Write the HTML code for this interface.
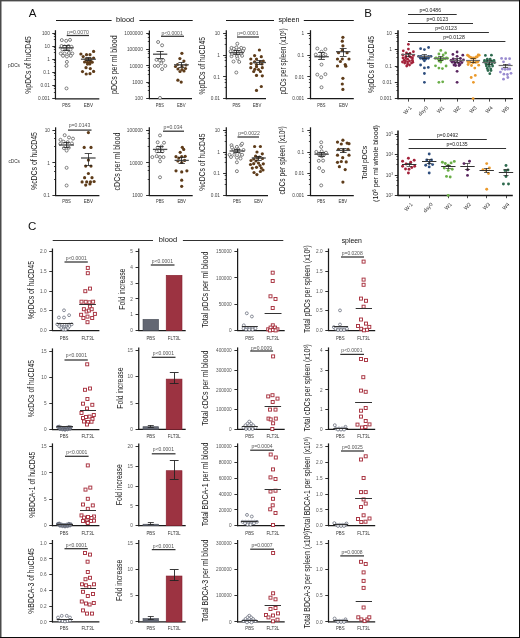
<!DOCTYPE html>
<html><head><meta charset="utf-8"><title>Figure</title>
<style>html,body{margin:0;padding:0;background:#fff;width:520px;height:638px;overflow:hidden;font-family:"Liberation Sans",sans-serif;}
svg{display:block;will-change:transform;}</style></head>
<body>
<svg width="520" height="638" viewBox="0 0 520 638" font-family='"Liberation Sans", sans-serif'>
<rect x="0" y="0" width="520" height="638" fill="#fff"/>
<text x="32.5" y="17.35" font-size="11.55" fill="#111" text-anchor="middle">A</text>
<text x="368.2" y="17.35" font-size="11.55" fill="#111" text-anchor="middle">B</text>
<text x="32.2" y="229.65" font-size="11.55" fill="#111" text-anchor="middle">C</text>
<text x="14" y="66.68" font-size="5.04" fill="#333" text-anchor="middle" textLength="12" lengthAdjust="spacingAndGlyphs">pDCs</text>
<text x="14.2" y="162.88" font-size="5.04" fill="#333" text-anchor="middle" textLength="11.5" lengthAdjust="spacingAndGlyphs">cDCs</text>
<line x1="56" y1="20.5" x2="111.6" y2="20.5" stroke="#1a1a1a" stroke-width="1.05"/>
<text x="125.1" y="21.99" font-size="7.77" fill="#111" text-anchor="middle" textLength="18.2" lengthAdjust="spacingAndGlyphs">blood</text>
<line x1="139.4" y1="20.5" x2="192.7" y2="20.5" stroke="#1a1a1a" stroke-width="1.05"/>
<line x1="226" y1="20.5" x2="274" y2="20.5" stroke="#1a1a1a" stroke-width="1.05"/>
<text x="289" y="21.99" font-size="7.77" fill="#111" text-anchor="middle" textLength="21.1" lengthAdjust="spacingAndGlyphs">spleen</text>
<line x1="303.8" y1="20.5" x2="353.8" y2="20.5" stroke="#1a1a1a" stroke-width="1.05"/>
<line x1="52.7" y1="240.5" x2="153" y2="240.5" stroke="#1a1a1a" stroke-width="0.9"/>
<text x="168" y="242.39" font-size="7.77" fill="#111" text-anchor="middle" textLength="18.3" lengthAdjust="spacingAndGlyphs">blood</text>
<line x1="182.9" y1="240.5" x2="283.3" y2="240.5" stroke="#1a1a1a" stroke-width="0.9"/>
<text x="351.8" y="242.59" font-size="7.77" fill="#111" text-anchor="middle" textLength="20.3" lengthAdjust="spacingAndGlyphs">spleen</text>
<line x1="55.45" y1="30.2" x2="55.45" y2="99.25" stroke="#1a1a1a" stroke-width="1.25"/>
<line x1="52.25" y1="33.5" x2="55.45" y2="33.5" stroke="#1a1a1a" stroke-width="0.9"/>
<text x="49.85" y="35.12" font-size="5.15" fill="#444" text-anchor="end" textLength="7.93" lengthAdjust="spacingAndGlyphs">100</text>
<line x1="52.25" y1="46.5" x2="55.45" y2="46.5" stroke="#1a1a1a" stroke-width="0.9"/>
<text x="49.85" y="48.18" font-size="5.15" fill="#444" text-anchor="end" textLength="5.28" lengthAdjust="spacingAndGlyphs">10</text>
<line x1="52.25" y1="59.5" x2="55.45" y2="59.5" stroke="#1a1a1a" stroke-width="0.9"/>
<text x="49.85" y="61.23" font-size="5.15" fill="#444" text-anchor="end" textLength="2.64" lengthAdjust="spacingAndGlyphs">1</text>
<line x1="52.25" y1="72.5" x2="55.45" y2="72.5" stroke="#1a1a1a" stroke-width="0.9"/>
<text x="49.85" y="74.3" font-size="5.15" fill="#444" text-anchor="end" textLength="6.6" lengthAdjust="spacingAndGlyphs">0.1</text>
<line x1="52.25" y1="85.5" x2="55.45" y2="85.5" stroke="#1a1a1a" stroke-width="0.9"/>
<text x="49.85" y="87.36" font-size="5.15" fill="#444" text-anchor="end" textLength="9.24" lengthAdjust="spacingAndGlyphs">0.01</text>
<line x1="52.25" y1="98.5" x2="55.45" y2="98.5" stroke="#1a1a1a" stroke-width="0.9"/>
<text x="49.85" y="100.41" font-size="5.15" fill="#444" text-anchor="end" textLength="11.89" lengthAdjust="spacingAndGlyphs">0.001</text>
<line x1="53.85" y1="86.5" x2="55.45" y2="86.5" stroke="#1a1a1a" stroke-width="0.8"/>
<line x1="53.85" y1="88.5" x2="55.45" y2="88.5" stroke="#1a1a1a" stroke-width="0.8"/>
<line x1="53.85" y1="92.5" x2="55.45" y2="92.5" stroke="#1a1a1a" stroke-width="0.8"/>
<line x1="53.85" y1="73.5" x2="55.45" y2="73.5" stroke="#1a1a1a" stroke-width="0.8"/>
<line x1="53.85" y1="75.5" x2="55.45" y2="75.5" stroke="#1a1a1a" stroke-width="0.8"/>
<line x1="53.85" y1="79.5" x2="55.45" y2="79.5" stroke="#1a1a1a" stroke-width="0.8"/>
<line x1="53.85" y1="60.5" x2="55.45" y2="60.5" stroke="#1a1a1a" stroke-width="0.8"/>
<line x1="53.85" y1="62.5" x2="55.45" y2="62.5" stroke="#1a1a1a" stroke-width="0.8"/>
<line x1="53.85" y1="66.5" x2="55.45" y2="66.5" stroke="#1a1a1a" stroke-width="0.8"/>
<line x1="53.85" y1="47.5" x2="55.45" y2="47.5" stroke="#1a1a1a" stroke-width="0.8"/>
<line x1="53.85" y1="49.5" x2="55.45" y2="49.5" stroke="#1a1a1a" stroke-width="0.8"/>
<line x1="53.85" y1="52.5" x2="55.45" y2="52.5" stroke="#1a1a1a" stroke-width="0.8"/>
<line x1="53.85" y1="34.5" x2="55.45" y2="34.5" stroke="#1a1a1a" stroke-width="0.8"/>
<line x1="53.85" y1="36.5" x2="55.45" y2="36.5" stroke="#1a1a1a" stroke-width="0.8"/>
<line x1="53.85" y1="39.5" x2="55.45" y2="39.5" stroke="#1a1a1a" stroke-width="0.8"/>
<line x1="54.95" y1="98.75" x2="99.3" y2="98.75" stroke="#1a1a1a" stroke-width="1.25"/>
<text transform="translate(28.45 65) rotate(-90)" x="0" y="2.83" font-size="8.51" fill="#1a1a1a" text-anchor="middle" textLength="57.4" lengthAdjust="spacingAndGlyphs">%pDCs of huCD45</text>
<circle cx="61.8" cy="40.1" r="1.5" fill="#fff" stroke="#585858" stroke-width="0.75"/>
<circle cx="66.2" cy="40.8" r="1.5" fill="#fff" stroke="#585858" stroke-width="0.75"/>
<circle cx="70" cy="39.9" r="1.5" fill="#fff" stroke="#585858" stroke-width="0.75"/>
<circle cx="61.5" cy="46" r="1.5" fill="#fff" stroke="#585858" stroke-width="0.75"/>
<circle cx="64.6" cy="46.5" r="1.5" fill="#fff" stroke="#585858" stroke-width="0.75"/>
<circle cx="68.5" cy="46" r="1.5" fill="#fff" stroke="#585858" stroke-width="0.75"/>
<circle cx="71.5" cy="46.8" r="1.5" fill="#fff" stroke="#585858" stroke-width="0.75"/>
<circle cx="62.5" cy="49.5" r="1.5" fill="#fff" stroke="#585858" stroke-width="0.75"/>
<circle cx="66.5" cy="49" r="1.5" fill="#fff" stroke="#585858" stroke-width="0.75"/>
<circle cx="70.5" cy="49.5" r="1.5" fill="#fff" stroke="#585858" stroke-width="0.75"/>
<circle cx="60.8" cy="53.5" r="1.5" fill="#fff" stroke="#585858" stroke-width="0.75"/>
<circle cx="64.6" cy="53.5" r="1.5" fill="#fff" stroke="#585858" stroke-width="0.75"/>
<circle cx="68.9" cy="53" r="1.5" fill="#fff" stroke="#585858" stroke-width="0.75"/>
<circle cx="72.3" cy="53.5" r="1.5" fill="#fff" stroke="#585858" stroke-width="0.75"/>
<circle cx="63" cy="55.8" r="1.5" fill="#fff" stroke="#585858" stroke-width="0.75"/>
<circle cx="66.9" cy="56.5" r="1.5" fill="#fff" stroke="#585858" stroke-width="0.75"/>
<circle cx="70.8" cy="55.8" r="1.5" fill="#fff" stroke="#585858" stroke-width="0.75"/>
<circle cx="66.9" cy="61.9" r="1.5" fill="#fff" stroke="#585858" stroke-width="0.75"/>
<circle cx="66.5" cy="65.8" r="1.5" fill="#fff" stroke="#585858" stroke-width="0.75"/>
<circle cx="66.5" cy="88.4" r="1.5" fill="#fff" stroke="#585858" stroke-width="0.75"/>
<circle cx="93.6" cy="51.4" r="1.6" fill="#5e3c1a"/>
<circle cx="80.9" cy="54" r="1.6" fill="#5e3c1a"/>
<circle cx="83.2" cy="56.6" r="1.6" fill="#5e3c1a"/>
<circle cx="86.5" cy="54.7" r="1.6" fill="#5e3c1a"/>
<circle cx="90" cy="54.7" r="1.6" fill="#5e3c1a"/>
<circle cx="93.6" cy="58" r="1.6" fill="#5e3c1a"/>
<circle cx="86" cy="59.4" r="1.6" fill="#5e3c1a"/>
<circle cx="88.4" cy="59.2" r="1.6" fill="#5e3c1a"/>
<circle cx="90.7" cy="59.4" r="1.6" fill="#5e3c1a"/>
<circle cx="84.6" cy="62" r="1.6" fill="#5e3c1a"/>
<circle cx="87.5" cy="62.2" r="1.6" fill="#5e3c1a"/>
<circle cx="90.3" cy="62" r="1.6" fill="#5e3c1a"/>
<circle cx="92.2" cy="62.2" r="1.6" fill="#5e3c1a"/>
<circle cx="87.5" cy="64.1" r="1.6" fill="#5e3c1a"/>
<circle cx="89.8" cy="63.9" r="1.6" fill="#5e3c1a"/>
<circle cx="86" cy="67.7" r="1.6" fill="#5e3c1a"/>
<circle cx="90.3" cy="68.6" r="1.6" fill="#5e3c1a"/>
<circle cx="82.5" cy="71.6" r="1.6" fill="#5e3c1a"/>
<circle cx="93.6" cy="71.4" r="1.6" fill="#5e3c1a"/>
<circle cx="86.2" cy="74" r="1.6" fill="#5e3c1a"/>
<circle cx="90" cy="73.7" r="1.6" fill="#5e3c1a"/>
<line x1="58.8" y1="47.8" x2="73.8" y2="47.8" stroke="#4a4a4a" stroke-width="1.3"/>
<line x1="66.5" y1="45.5" x2="66.5" y2="50.3" stroke="#222" stroke-width="0.8"/>
<line x1="62.7" y1="45.5" x2="69.9" y2="45.5" stroke="#222" stroke-width="0.8"/>
<line x1="62.7" y1="50.5" x2="69.9" y2="50.5" stroke="#222" stroke-width="0.8"/>
<line x1="80.9" y1="59.2" x2="95.9" y2="59.2" stroke="#4a4a4a" stroke-width="1.3"/>
<line x1="88.5" y1="57.8" x2="88.5" y2="60.6" stroke="#222" stroke-width="0.8"/>
<line x1="85.4" y1="57.5" x2="91.4" y2="57.5" stroke="#222" stroke-width="0.8"/>
<line x1="85.4" y1="60.5" x2="91.4" y2="60.5" stroke="#222" stroke-width="0.8"/>
<text x="78" y="33.58" font-size="4.73" fill="#555" text-anchor="middle" textLength="21.8" lengthAdjust="spacingAndGlyphs">p=0.0070</text>
<line x1="66.7" y1="35.5" x2="89" y2="35.5" stroke="#333" stroke-width="1.25"/>
<text x="66.3" y="106.89" font-size="5.67" fill="#333" text-anchor="middle" textLength="8.3" lengthAdjust="spacingAndGlyphs">PBS</text>
<text x="88.4" y="106.89" font-size="5.67" fill="#333" text-anchor="middle" textLength="9.2" lengthAdjust="spacingAndGlyphs">EBV</text>
<line x1="149.4" y1="30.5" x2="149.4" y2="99.2" stroke="#1a1a1a" stroke-width="1.25"/>
<line x1="146.2" y1="33.5" x2="149.4" y2="33.5" stroke="#1a1a1a" stroke-width="0.9"/>
<text x="142.8" y="34.82" font-size="5.15" fill="#444" text-anchor="end" textLength="18.49" lengthAdjust="spacingAndGlyphs">1000000</text>
<line x1="146.2" y1="49.5" x2="149.4" y2="49.5" stroke="#1a1a1a" stroke-width="0.9"/>
<text x="142.8" y="51.22" font-size="5.15" fill="#444" text-anchor="end" textLength="15.85" lengthAdjust="spacingAndGlyphs">100000</text>
<line x1="146.2" y1="65.5" x2="149.4" y2="65.5" stroke="#1a1a1a" stroke-width="0.9"/>
<text x="142.8" y="67.62" font-size="5.15" fill="#444" text-anchor="end" textLength="13.21" lengthAdjust="spacingAndGlyphs">10000</text>
<line x1="146.2" y1="82.5" x2="149.4" y2="82.5" stroke="#1a1a1a" stroke-width="0.9"/>
<text x="142.8" y="84.02" font-size="5.15" fill="#444" text-anchor="end" textLength="10.57" lengthAdjust="spacingAndGlyphs">1000</text>
<line x1="146.2" y1="98.5" x2="149.4" y2="98.5" stroke="#1a1a1a" stroke-width="0.9"/>
<text x="142.8" y="100.41" font-size="5.15" fill="#444" text-anchor="end" textLength="7.93" lengthAdjust="spacingAndGlyphs">100</text>
<line x1="147.8" y1="83.5" x2="149.4" y2="83.5" stroke="#1a1a1a" stroke-width="0.8"/>
<line x1="147.8" y1="86.5" x2="149.4" y2="86.5" stroke="#1a1a1a" stroke-width="0.8"/>
<line x1="147.8" y1="90.5" x2="149.4" y2="90.5" stroke="#1a1a1a" stroke-width="0.8"/>
<line x1="147.8" y1="67.5" x2="149.4" y2="67.5" stroke="#1a1a1a" stroke-width="0.8"/>
<line x1="147.8" y1="70.5" x2="149.4" y2="70.5" stroke="#1a1a1a" stroke-width="0.8"/>
<line x1="147.8" y1="74.5" x2="149.4" y2="74.5" stroke="#1a1a1a" stroke-width="0.8"/>
<line x1="147.8" y1="51.5" x2="149.4" y2="51.5" stroke="#1a1a1a" stroke-width="0.8"/>
<line x1="147.8" y1="53.5" x2="149.4" y2="53.5" stroke="#1a1a1a" stroke-width="0.8"/>
<line x1="147.8" y1="57.5" x2="149.4" y2="57.5" stroke="#1a1a1a" stroke-width="0.8"/>
<line x1="147.8" y1="34.5" x2="149.4" y2="34.5" stroke="#1a1a1a" stroke-width="0.8"/>
<line x1="147.8" y1="37.5" x2="149.4" y2="37.5" stroke="#1a1a1a" stroke-width="0.8"/>
<line x1="147.8" y1="41.5" x2="149.4" y2="41.5" stroke="#1a1a1a" stroke-width="0.8"/>
<line x1="148.9" y1="98.7" x2="192" y2="98.7" stroke="#1a1a1a" stroke-width="1.25"/>
<text transform="translate(114.16 64.7) rotate(-90)" x="0" y="2.83" font-size="8.51" fill="#1a1a1a" text-anchor="middle" textLength="58.6" lengthAdjust="spacingAndGlyphs">pDCs per ml blood</text>
<circle cx="158.1" cy="42" r="1.5" fill="#fff" stroke="#585858" stroke-width="0.75"/>
<circle cx="162.1" cy="45.3" r="1.5" fill="#fff" stroke="#585858" stroke-width="0.75"/>
<circle cx="156.5" cy="59.8" r="1.5" fill="#fff" stroke="#585858" stroke-width="0.75"/>
<circle cx="159.8" cy="60.3" r="1.5" fill="#fff" stroke="#585858" stroke-width="0.75"/>
<circle cx="163.3" cy="60.3" r="1.5" fill="#fff" stroke="#585858" stroke-width="0.75"/>
<circle cx="161.3" cy="63.3" r="1.5" fill="#fff" stroke="#585858" stroke-width="0.75"/>
<circle cx="154.8" cy="65.9" r="1.5" fill="#fff" stroke="#585858" stroke-width="0.75"/>
<circle cx="158.1" cy="65.9" r="1.5" fill="#fff" stroke="#585858" stroke-width="0.75"/>
<circle cx="165.3" cy="65.9" r="1.5" fill="#fff" stroke="#585858" stroke-width="0.75"/>
<circle cx="162.1" cy="69.1" r="1.5" fill="#fff" stroke="#585858" stroke-width="0.75"/>
<circle cx="160" cy="97.9" r="1.5" fill="#fff" stroke="#585858" stroke-width="0.75"/>
<circle cx="181.9" cy="53.3" r="1.6" fill="#5e3c1a"/>
<circle cx="179.9" cy="58.6" r="1.6" fill="#5e3c1a"/>
<circle cx="183.9" cy="61" r="1.6" fill="#5e3c1a"/>
<circle cx="177.5" cy="64.5" r="1.6" fill="#5e3c1a"/>
<circle cx="182" cy="66" r="1.6" fill="#5e3c1a"/>
<circle cx="186" cy="65" r="1.6" fill="#5e3c1a"/>
<circle cx="175.5" cy="66.5" r="1.6" fill="#5e3c1a"/>
<circle cx="178" cy="69" r="1.6" fill="#5e3c1a"/>
<circle cx="182" cy="69.5" r="1.6" fill="#5e3c1a"/>
<circle cx="185.5" cy="68.5" r="1.6" fill="#5e3c1a"/>
<circle cx="180" cy="71.5" r="1.6" fill="#5e3c1a"/>
<circle cx="184" cy="71" r="1.6" fill="#5e3c1a"/>
<circle cx="177.9" cy="80.2" r="1.6" fill="#5e3c1a"/>
<circle cx="181.2" cy="82.1" r="1.6" fill="#5e3c1a"/>
<line x1="153" y1="54.2" x2="167.3" y2="54.2" stroke="#4a4a4a" stroke-width="1.3"/>
<line x1="160.5" y1="51" x2="160.5" y2="58" stroke="#222" stroke-width="0.8"/>
<line x1="156.5" y1="51.5" x2="163.7" y2="51.5" stroke="#222" stroke-width="0.8"/>
<line x1="156.5" y1="58.5" x2="163.7" y2="58.5" stroke="#222" stroke-width="0.8"/>
<line x1="174" y1="64.8" x2="188.8" y2="64.8" stroke="#4a4a4a" stroke-width="1.3"/>
<line x1="181.5" y1="62.6" x2="181.5" y2="67" stroke="#222" stroke-width="0.8"/>
<line x1="178.4" y1="62.5" x2="184.4" y2="62.5" stroke="#222" stroke-width="0.8"/>
<line x1="178.4" y1="67.5" x2="184.4" y2="67.5" stroke="#222" stroke-width="0.8"/>
<text x="172.1" y="34.58" font-size="4.73" fill="#555" text-anchor="middle" textLength="21.2" lengthAdjust="spacingAndGlyphs">p&lt;0.0001</text>
<line x1="161" y1="36.3" x2="184" y2="36.3" stroke="#333" stroke-width="1.25"/>
<text x="159.8" y="106.59" font-size="5.67" fill="#333" text-anchor="middle" textLength="8" lengthAdjust="spacingAndGlyphs">PBS</text>
<text x="181.3" y="106.59" font-size="5.67" fill="#333" text-anchor="middle" textLength="8.6" lengthAdjust="spacingAndGlyphs">EBV</text>
<line x1="226.3" y1="30.2" x2="226.3" y2="99.2" stroke="#1a1a1a" stroke-width="1.25"/>
<line x1="223.1" y1="33.5" x2="226.3" y2="33.5" stroke="#1a1a1a" stroke-width="0.9"/>
<text x="220" y="35.12" font-size="5.15" fill="#444" text-anchor="end" textLength="5.28" lengthAdjust="spacingAndGlyphs">10</text>
<line x1="223.1" y1="55.5" x2="226.3" y2="55.5" stroke="#1a1a1a" stroke-width="0.9"/>
<text x="220" y="56.89" font-size="5.15" fill="#444" text-anchor="end" textLength="2.64" lengthAdjust="spacingAndGlyphs">1</text>
<line x1="223.1" y1="76.5" x2="226.3" y2="76.5" stroke="#1a1a1a" stroke-width="0.9"/>
<text x="220" y="78.66" font-size="5.15" fill="#444" text-anchor="end" textLength="6.6" lengthAdjust="spacingAndGlyphs">0.1</text>
<line x1="223.1" y1="98.5" x2="226.3" y2="98.5" stroke="#1a1a1a" stroke-width="0.9"/>
<text x="220" y="100.43" font-size="5.15" fill="#444" text-anchor="end" textLength="9.24" lengthAdjust="spacingAndGlyphs">0.01</text>
<line x1="224.7" y1="79.5" x2="226.3" y2="79.5" stroke="#1a1a1a" stroke-width="0.8"/>
<line x1="224.7" y1="82.5" x2="226.3" y2="82.5" stroke="#1a1a1a" stroke-width="0.8"/>
<line x1="224.7" y1="87.5" x2="226.3" y2="87.5" stroke="#1a1a1a" stroke-width="0.8"/>
<line x1="224.7" y1="57.5" x2="226.3" y2="57.5" stroke="#1a1a1a" stroke-width="0.8"/>
<line x1="224.7" y1="60.5" x2="226.3" y2="60.5" stroke="#1a1a1a" stroke-width="0.8"/>
<line x1="224.7" y1="66.5" x2="226.3" y2="66.5" stroke="#1a1a1a" stroke-width="0.8"/>
<line x1="224.7" y1="35.5" x2="226.3" y2="35.5" stroke="#1a1a1a" stroke-width="0.8"/>
<line x1="224.7" y1="38.5" x2="226.3" y2="38.5" stroke="#1a1a1a" stroke-width="0.8"/>
<line x1="224.7" y1="44.5" x2="226.3" y2="44.5" stroke="#1a1a1a" stroke-width="0.8"/>
<line x1="225.8" y1="98.7" x2="266" y2="98.7" stroke="#1a1a1a" stroke-width="1.25"/>
<text transform="translate(202.06 65.8) rotate(-90)" x="0" y="2.83" font-size="8.51" fill="#1a1a1a" text-anchor="middle" textLength="57.6" lengthAdjust="spacingAndGlyphs">%pDCs of huCD45</text>
<circle cx="237.3" cy="43.7" r="1.5" fill="#fff" stroke="#585858" stroke-width="0.75"/>
<circle cx="231.5" cy="47.9" r="1.5" fill="#fff" stroke="#585858" stroke-width="0.75"/>
<circle cx="236.3" cy="47.5" r="1.5" fill="#fff" stroke="#585858" stroke-width="0.75"/>
<circle cx="241.2" cy="47.9" r="1.5" fill="#fff" stroke="#585858" stroke-width="0.75"/>
<circle cx="230.6" cy="51.3" r="1.5" fill="#fff" stroke="#585858" stroke-width="0.75"/>
<circle cx="235.4" cy="51.9" r="1.5" fill="#fff" stroke="#585858" stroke-width="0.75"/>
<circle cx="240.2" cy="51.3" r="1.5" fill="#fff" stroke="#585858" stroke-width="0.75"/>
<circle cx="243.1" cy="50.8" r="1.5" fill="#fff" stroke="#585858" stroke-width="0.75"/>
<circle cx="231.5" cy="56.2" r="1.5" fill="#fff" stroke="#585858" stroke-width="0.75"/>
<circle cx="236.9" cy="56.2" r="1.5" fill="#fff" stroke="#585858" stroke-width="0.75"/>
<circle cx="242.1" cy="55.8" r="1.5" fill="#fff" stroke="#585858" stroke-width="0.75"/>
<circle cx="233.5" cy="61.5" r="1.5" fill="#fff" stroke="#585858" stroke-width="0.75"/>
<circle cx="239.2" cy="61.9" r="1.5" fill="#fff" stroke="#585858" stroke-width="0.75"/>
<circle cx="236.3" cy="72.5" r="1.5" fill="#fff" stroke="#585858" stroke-width="0.75"/>
<circle cx="233.8" cy="48.8" r="1.5" fill="#fff" stroke="#585858" stroke-width="0.75"/>
<circle cx="239" cy="49.5" r="1.5" fill="#fff" stroke="#585858" stroke-width="0.75"/>
<circle cx="244" cy="48.6" r="1.5" fill="#fff" stroke="#585858" stroke-width="0.75"/>
<circle cx="232" cy="53.8" r="1.5" fill="#fff" stroke="#585858" stroke-width="0.75"/>
<circle cx="241" cy="53.5" r="1.5" fill="#fff" stroke="#585858" stroke-width="0.75"/>
<circle cx="237.5" cy="58.5" r="1.5" fill="#fff" stroke="#585858" stroke-width="0.75"/>
<circle cx="259.4" cy="50" r="1.6" fill="#5e3c1a"/>
<circle cx="254.6" cy="55.6" r="1.6" fill="#5e3c1a"/>
<circle cx="261.3" cy="56.7" r="1.6" fill="#5e3c1a"/>
<circle cx="250.8" cy="59" r="1.6" fill="#5e3c1a"/>
<circle cx="256.5" cy="59" r="1.6" fill="#5e3c1a"/>
<circle cx="254.6" cy="61.9" r="1.6" fill="#5e3c1a"/>
<circle cx="260.4" cy="61.9" r="1.6" fill="#5e3c1a"/>
<circle cx="263.3" cy="61" r="1.6" fill="#5e3c1a"/>
<circle cx="250.8" cy="67.7" r="1.6" fill="#5e3c1a"/>
<circle cx="256.5" cy="66.7" r="1.6" fill="#5e3c1a"/>
<circle cx="262.3" cy="67.7" r="1.6" fill="#5e3c1a"/>
<circle cx="253.7" cy="71.5" r="1.6" fill="#5e3c1a"/>
<circle cx="260.4" cy="71.5" r="1.6" fill="#5e3c1a"/>
<circle cx="256.5" cy="75.4" r="1.6" fill="#5e3c1a"/>
<circle cx="262.3" cy="75.8" r="1.6" fill="#5e3c1a"/>
<circle cx="261.3" cy="86.5" r="1.6" fill="#5e3c1a"/>
<circle cx="256.5" cy="90.4" r="1.6" fill="#5e3c1a"/>
<circle cx="256.5" cy="64.5" r="1.6" fill="#5e3c1a"/>
<circle cx="251" cy="63.5" r="1.6" fill="#5e3c1a"/>
<circle cx="262" cy="64" r="1.6" fill="#5e3c1a"/>
<circle cx="258.5" cy="69.5" r="1.6" fill="#5e3c1a"/>
<circle cx="254.8" cy="69.3" r="1.6" fill="#5e3c1a"/>
<line x1="229.6" y1="52.7" x2="244" y2="52.7" stroke="#4a4a4a" stroke-width="1.3"/>
<line x1="236.5" y1="50.8" x2="236.5" y2="54.8" stroke="#222" stroke-width="0.8"/>
<line x1="233.4" y1="50.5" x2="240.2" y2="50.5" stroke="#222" stroke-width="0.8"/>
<line x1="233.4" y1="54.5" x2="240.2" y2="54.5" stroke="#222" stroke-width="0.8"/>
<line x1="252.7" y1="62.5" x2="266" y2="62.5" stroke="#4a4a4a" stroke-width="1.3"/>
<line x1="259.5" y1="60.6" x2="259.5" y2="64.4" stroke="#222" stroke-width="0.8"/>
<line x1="256.4" y1="60.5" x2="262.4" y2="60.5" stroke="#222" stroke-width="0.8"/>
<line x1="256.4" y1="64.5" x2="262.4" y2="64.5" stroke="#222" stroke-width="0.8"/>
<text x="247.9" y="35.08" font-size="4.73" fill="#555" text-anchor="middle" textLength="21.2" lengthAdjust="spacingAndGlyphs">p=0.0001</text>
<line x1="237" y1="37" x2="259" y2="37" stroke="#333" stroke-width="1.25"/>
<text x="236.5" y="106.69" font-size="5.67" fill="#333" text-anchor="middle" textLength="8" lengthAdjust="spacingAndGlyphs">PBS</text>
<text x="257" y="106.69" font-size="5.67" fill="#333" text-anchor="middle" textLength="8.6" lengthAdjust="spacingAndGlyphs">EBV</text>
<line x1="310.5" y1="30.2" x2="310.5" y2="99.2" stroke="#1a1a1a" stroke-width="1.25"/>
<line x1="307.3" y1="33.5" x2="310.5" y2="33.5" stroke="#1a1a1a" stroke-width="0.9"/>
<text x="304.1" y="35.12" font-size="5.15" fill="#444" text-anchor="end" textLength="2.64" lengthAdjust="spacingAndGlyphs">1</text>
<line x1="307.3" y1="55.5" x2="310.5" y2="55.5" stroke="#1a1a1a" stroke-width="0.9"/>
<text x="304.1" y="56.89" font-size="5.15" fill="#444" text-anchor="end" textLength="6.6" lengthAdjust="spacingAndGlyphs">0.1</text>
<line x1="307.3" y1="76.5" x2="310.5" y2="76.5" stroke="#1a1a1a" stroke-width="0.9"/>
<text x="304.1" y="78.66" font-size="5.15" fill="#444" text-anchor="end" textLength="9.24" lengthAdjust="spacingAndGlyphs">0.01</text>
<line x1="307.3" y1="98.5" x2="310.5" y2="98.5" stroke="#1a1a1a" stroke-width="0.9"/>
<text x="304.1" y="100.43" font-size="5.15" fill="#444" text-anchor="end" textLength="11.89" lengthAdjust="spacingAndGlyphs">0.001</text>
<line x1="308.9" y1="79.5" x2="310.5" y2="79.5" stroke="#1a1a1a" stroke-width="0.8"/>
<line x1="308.9" y1="82.5" x2="310.5" y2="82.5" stroke="#1a1a1a" stroke-width="0.8"/>
<line x1="308.9" y1="87.5" x2="310.5" y2="87.5" stroke="#1a1a1a" stroke-width="0.8"/>
<line x1="308.9" y1="57.5" x2="310.5" y2="57.5" stroke="#1a1a1a" stroke-width="0.8"/>
<line x1="308.9" y1="60.5" x2="310.5" y2="60.5" stroke="#1a1a1a" stroke-width="0.8"/>
<line x1="308.9" y1="66.5" x2="310.5" y2="66.5" stroke="#1a1a1a" stroke-width="0.8"/>
<line x1="308.9" y1="35.5" x2="310.5" y2="35.5" stroke="#1a1a1a" stroke-width="0.8"/>
<line x1="308.9" y1="38.5" x2="310.5" y2="38.5" stroke="#1a1a1a" stroke-width="0.8"/>
<line x1="308.9" y1="44.5" x2="310.5" y2="44.5" stroke="#1a1a1a" stroke-width="0.8"/>
<line x1="310" y1="98.7" x2="353.8" y2="98.7" stroke="#1a1a1a" stroke-width="1.25"/>
<text transform="translate(283.45 61.45) rotate(-90)" x="0" y="2.83" font-size="8.51" fill="#1a1a1a" text-anchor="middle" textLength="66.3" lengthAdjust="spacingAndGlyphs">pDCs per spleen (x10<tspan dy="-2.2" font-size="4.6">6</tspan><tspan dy="2.2">)</tspan></text>
<circle cx="317.3" cy="48.5" r="1.5" fill="#fff" stroke="#585858" stroke-width="0.75"/>
<circle cx="325.4" cy="49.2" r="1.5" fill="#fff" stroke="#585858" stroke-width="0.75"/>
<circle cx="321.5" cy="51.7" r="1.5" fill="#fff" stroke="#585858" stroke-width="0.75"/>
<circle cx="315.8" cy="54.6" r="1.5" fill="#fff" stroke="#585858" stroke-width="0.75"/>
<circle cx="325.4" cy="54.6" r="1.5" fill="#fff" stroke="#585858" stroke-width="0.75"/>
<circle cx="320.2" cy="56.5" r="1.5" fill="#fff" stroke="#585858" stroke-width="0.75"/>
<circle cx="323.5" cy="56.2" r="1.5" fill="#fff" stroke="#585858" stroke-width="0.75"/>
<circle cx="321.5" cy="64.6" r="1.5" fill="#fff" stroke="#585858" stroke-width="0.75"/>
<circle cx="317.3" cy="74.6" r="1.5" fill="#fff" stroke="#585858" stroke-width="0.75"/>
<circle cx="325.4" cy="74.2" r="1.5" fill="#fff" stroke="#585858" stroke-width="0.75"/>
<circle cx="321.2" cy="77.3" r="1.5" fill="#fff" stroke="#585858" stroke-width="0.75"/>
<circle cx="321.5" cy="87.3" r="1.5" fill="#fff" stroke="#585858" stroke-width="0.75"/>
<circle cx="342.9" cy="37.3" r="1.6" fill="#5e3c1a"/>
<circle cx="342.3" cy="41.2" r="1.6" fill="#5e3c1a"/>
<circle cx="342.9" cy="45.8" r="1.6" fill="#5e3c1a"/>
<circle cx="342.3" cy="50.4" r="1.6" fill="#5e3c1a"/>
<circle cx="338.5" cy="52.7" r="1.6" fill="#5e3c1a"/>
<circle cx="347.1" cy="52.7" r="1.6" fill="#5e3c1a"/>
<circle cx="337.5" cy="59" r="1.6" fill="#5e3c1a"/>
<circle cx="342.3" cy="59" r="1.6" fill="#5e3c1a"/>
<circle cx="349" cy="59" r="1.6" fill="#5e3c1a"/>
<circle cx="340.4" cy="61.5" r="1.6" fill="#5e3c1a"/>
<circle cx="337.5" cy="66" r="1.6" fill="#5e3c1a"/>
<circle cx="345.2" cy="64.6" r="1.6" fill="#5e3c1a"/>
<circle cx="345.8" cy="66.2" r="1.6" fill="#5e3c1a"/>
<circle cx="342.9" cy="78.3" r="1.6" fill="#5e3c1a"/>
<circle cx="342.3" cy="84" r="1.6" fill="#5e3c1a"/>
<circle cx="342.9" cy="89.4" r="1.6" fill="#5e3c1a"/>
<line x1="314.4" y1="56.7" x2="328.8" y2="56.7" stroke="#4a4a4a" stroke-width="1.3"/>
<line x1="321.5" y1="52.5" x2="321.5" y2="59" stroke="#222" stroke-width="0.8"/>
<line x1="318.1" y1="52.5" x2="324.9" y2="52.5" stroke="#222" stroke-width="0.8"/>
<line x1="318.1" y1="59.5" x2="324.9" y2="59.5" stroke="#222" stroke-width="0.8"/>
<line x1="336" y1="51.7" x2="350.4" y2="51.7" stroke="#4a4a4a" stroke-width="1.3"/>
<line x1="343.5" y1="48.5" x2="343.5" y2="56" stroke="#222" stroke-width="0.8"/>
<line x1="339.8" y1="48.5" x2="346.6" y2="48.5" stroke="#222" stroke-width="0.8"/>
<line x1="339.8" y1="56.5" x2="346.6" y2="56.5" stroke="#222" stroke-width="0.8"/>
<text x="321.3" y="106.69" font-size="5.67" fill="#333" text-anchor="middle" textLength="8.1" lengthAdjust="spacingAndGlyphs">PBS</text>
<text x="343.5" y="106.69" font-size="5.67" fill="#333" text-anchor="middle" textLength="9" lengthAdjust="spacingAndGlyphs">EBV</text>
<line x1="55.6" y1="127.3" x2="55.6" y2="196" stroke="#1a1a1a" stroke-width="1.25"/>
<line x1="52.4" y1="130.5" x2="55.6" y2="130.5" stroke="#1a1a1a" stroke-width="0.9"/>
<text x="50" y="132.02" font-size="5.15" fill="#444" text-anchor="end" textLength="5.28" lengthAdjust="spacingAndGlyphs">10</text>
<line x1="52.4" y1="162.5" x2="55.6" y2="162.5" stroke="#1a1a1a" stroke-width="0.9"/>
<text x="50" y="164.62" font-size="5.15" fill="#444" text-anchor="end" textLength="2.64" lengthAdjust="spacingAndGlyphs">1</text>
<line x1="52.4" y1="195.5" x2="55.6" y2="195.5" stroke="#1a1a1a" stroke-width="0.9"/>
<text x="50" y="197.22" font-size="5.15" fill="#444" text-anchor="end" textLength="6.6" lengthAdjust="spacingAndGlyphs">0.1</text>
<line x1="54" y1="166.5" x2="55.6" y2="166.5" stroke="#1a1a1a" stroke-width="0.8"/>
<line x1="54" y1="171.5" x2="55.6" y2="171.5" stroke="#1a1a1a" stroke-width="0.8"/>
<line x1="54" y1="179.5" x2="55.6" y2="179.5" stroke="#1a1a1a" stroke-width="0.8"/>
<line x1="54" y1="133.5" x2="55.6" y2="133.5" stroke="#1a1a1a" stroke-width="0.8"/>
<line x1="54" y1="138.5" x2="55.6" y2="138.5" stroke="#1a1a1a" stroke-width="0.8"/>
<line x1="54" y1="146.5" x2="55.6" y2="146.5" stroke="#1a1a1a" stroke-width="0.8"/>
<line x1="55.1" y1="195.5" x2="99.4" y2="195.5" stroke="#1a1a1a" stroke-width="1.25"/>
<text transform="translate(34.65 161.1) rotate(-90)" x="0" y="2.83" font-size="8.51" fill="#1a1a1a" text-anchor="middle" textLength="57.8" lengthAdjust="spacingAndGlyphs">%cDCs of huCD45</text>
<circle cx="64.7" cy="135.2" r="1.5" fill="#fff" stroke="#585858" stroke-width="0.75"/>
<circle cx="69" cy="137.5" r="1.5" fill="#fff" stroke="#585858" stroke-width="0.75"/>
<circle cx="73" cy="138.6" r="1.5" fill="#fff" stroke="#585858" stroke-width="0.75"/>
<circle cx="60.5" cy="139.8" r="1.5" fill="#fff" stroke="#585858" stroke-width="0.75"/>
<circle cx="63.5" cy="141.7" r="1.5" fill="#fff" stroke="#585858" stroke-width="0.75"/>
<circle cx="67.7" cy="142.2" r="1.5" fill="#fff" stroke="#585858" stroke-width="0.75"/>
<circle cx="60.3" cy="143.8" r="1.5" fill="#fff" stroke="#585858" stroke-width="0.75"/>
<circle cx="71.9" cy="143.4" r="1.5" fill="#fff" stroke="#585858" stroke-width="0.75"/>
<circle cx="63.9" cy="148.1" r="1.5" fill="#fff" stroke="#585858" stroke-width="0.75"/>
<circle cx="68.8" cy="147.7" r="1.5" fill="#fff" stroke="#585858" stroke-width="0.75"/>
<circle cx="66.6" cy="150.6" r="1.5" fill="#fff" stroke="#585858" stroke-width="0.75"/>
<circle cx="66.6" cy="167.8" r="1.5" fill="#fff" stroke="#585858" stroke-width="0.75"/>
<circle cx="66.6" cy="185.5" r="1.5" fill="#fff" stroke="#585858" stroke-width="0.75"/>
<circle cx="88.4" cy="132.6" r="1.6" fill="#5e3c1a"/>
<circle cx="84.2" cy="147.4" r="1.6" fill="#5e3c1a"/>
<circle cx="91" cy="147.4" r="1.6" fill="#5e3c1a"/>
<circle cx="88.4" cy="160.1" r="1.6" fill="#5e3c1a"/>
<circle cx="85.7" cy="166.1" r="1.6" fill="#5e3c1a"/>
<circle cx="91" cy="166.1" r="1.6" fill="#5e3c1a"/>
<circle cx="88.4" cy="173.5" r="1.6" fill="#5e3c1a"/>
<circle cx="84.6" cy="177.7" r="1.6" fill="#5e3c1a"/>
<circle cx="92" cy="177.7" r="1.6" fill="#5e3c1a"/>
<circle cx="82.1" cy="181.9" r="1.6" fill="#5e3c1a"/>
<circle cx="86.7" cy="181.9" r="1.6" fill="#5e3c1a"/>
<circle cx="90.5" cy="181.9" r="1.6" fill="#5e3c1a"/>
<circle cx="94.1" cy="181.5" r="1.6" fill="#5e3c1a"/>
<circle cx="85.7" cy="185.1" r="1.6" fill="#5e3c1a"/>
<circle cx="89.9" cy="184" r="1.6" fill="#5e3c1a"/>
<line x1="59" y1="145" x2="74" y2="145" stroke="#4a4a4a" stroke-width="1.3"/>
<line x1="66.5" y1="142" x2="66.5" y2="147.8" stroke="#222" stroke-width="0.8"/>
<line x1="63.3" y1="142.5" x2="69.7" y2="142.5" stroke="#222" stroke-width="0.8"/>
<line x1="63.3" y1="147.5" x2="69.7" y2="147.5" stroke="#222" stroke-width="0.8"/>
<line x1="81" y1="158" x2="95.6" y2="158" stroke="#4a4a4a" stroke-width="1.3"/>
<line x1="88.5" y1="153.4" x2="88.5" y2="165.4" stroke="#222" stroke-width="0.8"/>
<line x1="84.7" y1="153.5" x2="91.9" y2="153.5" stroke="#222" stroke-width="0.8"/>
<line x1="84.7" y1="165.5" x2="91.9" y2="165.5" stroke="#222" stroke-width="0.8"/>
<text x="79.5" y="127.48" font-size="4.73" fill="#555" text-anchor="middle" textLength="21.5" lengthAdjust="spacingAndGlyphs">p=0.0143</text>
<line x1="68" y1="130.1" x2="91.5" y2="130.1" stroke="#333" stroke-width="1.25"/>
<text x="66.6" y="203.29" font-size="5.67" fill="#333" text-anchor="middle" textLength="8.5" lengthAdjust="spacingAndGlyphs">PBS</text>
<text x="88.4" y="203.29" font-size="5.67" fill="#333" text-anchor="middle" textLength="9.2" lengthAdjust="spacingAndGlyphs">EBV</text>
<line x1="149.3" y1="127.3" x2="149.3" y2="196" stroke="#1a1a1a" stroke-width="1.25"/>
<line x1="146.1" y1="130.5" x2="149.3" y2="130.5" stroke="#1a1a1a" stroke-width="0.9"/>
<text x="142.7" y="131.81" font-size="5.15" fill="#444" text-anchor="end" textLength="15.85" lengthAdjust="spacingAndGlyphs">100000</text>
<line x1="146.1" y1="162.5" x2="149.3" y2="162.5" stroke="#1a1a1a" stroke-width="0.9"/>
<text x="142.7" y="164.52" font-size="5.15" fill="#444" text-anchor="end" textLength="13.21" lengthAdjust="spacingAndGlyphs">10000</text>
<line x1="146.1" y1="195.5" x2="149.3" y2="195.5" stroke="#1a1a1a" stroke-width="0.9"/>
<text x="142.7" y="197.22" font-size="5.15" fill="#444" text-anchor="end" textLength="10.57" lengthAdjust="spacingAndGlyphs">1000</text>
<line x1="147.7" y1="166.5" x2="149.3" y2="166.5" stroke="#1a1a1a" stroke-width="0.8"/>
<line x1="147.7" y1="170.5" x2="149.3" y2="170.5" stroke="#1a1a1a" stroke-width="0.8"/>
<line x1="147.7" y1="179.5" x2="149.3" y2="179.5" stroke="#1a1a1a" stroke-width="0.8"/>
<line x1="147.7" y1="133.5" x2="149.3" y2="133.5" stroke="#1a1a1a" stroke-width="0.8"/>
<line x1="147.7" y1="138.5" x2="149.3" y2="138.5" stroke="#1a1a1a" stroke-width="0.8"/>
<line x1="147.7" y1="146.5" x2="149.3" y2="146.5" stroke="#1a1a1a" stroke-width="0.8"/>
<line x1="148.8" y1="195.5" x2="192.7" y2="195.5" stroke="#1a1a1a" stroke-width="1.25"/>
<text transform="translate(116.76 161.55) rotate(-90)" x="0" y="2.83" font-size="8.51" fill="#1a1a1a" text-anchor="middle" textLength="57.7" lengthAdjust="spacingAndGlyphs">cDCs per ml blood</text>
<circle cx="160" cy="135.4" r="1.5" fill="#fff" stroke="#585858" stroke-width="0.75"/>
<circle cx="157.7" cy="142.3" r="1.5" fill="#fff" stroke="#585858" stroke-width="0.75"/>
<circle cx="164" cy="142.7" r="1.5" fill="#fff" stroke="#585858" stroke-width="0.75"/>
<circle cx="157.7" cy="147.5" r="1.5" fill="#fff" stroke="#585858" stroke-width="0.75"/>
<circle cx="161.5" cy="146.5" r="1.5" fill="#fff" stroke="#585858" stroke-width="0.75"/>
<circle cx="156.7" cy="151.3" r="1.5" fill="#fff" stroke="#585858" stroke-width="0.75"/>
<circle cx="162.5" cy="151.3" r="1.5" fill="#fff" stroke="#585858" stroke-width="0.75"/>
<circle cx="152.3" cy="157.1" r="1.5" fill="#fff" stroke="#585858" stroke-width="0.75"/>
<circle cx="156.7" cy="156.2" r="1.5" fill="#fff" stroke="#585858" stroke-width="0.75"/>
<circle cx="160" cy="157.1" r="1.5" fill="#fff" stroke="#585858" stroke-width="0.75"/>
<circle cx="163.5" cy="157.1" r="1.5" fill="#fff" stroke="#585858" stroke-width="0.75"/>
<circle cx="160" cy="161.3" r="1.5" fill="#fff" stroke="#585858" stroke-width="0.75"/>
<circle cx="160" cy="177.3" r="1.5" fill="#fff" stroke="#585858" stroke-width="0.75"/>
<circle cx="182.3" cy="147.3" r="1.6" fill="#5e3c1a"/>
<circle cx="183.7" cy="149.4" r="1.6" fill="#5e3c1a"/>
<circle cx="180.2" cy="152.3" r="1.6" fill="#5e3c1a"/>
<circle cx="176" cy="156.7" r="1.6" fill="#5e3c1a"/>
<circle cx="181.7" cy="156.7" r="1.6" fill="#5e3c1a"/>
<circle cx="185.2" cy="156.3" r="1.6" fill="#5e3c1a"/>
<circle cx="178.8" cy="158.1" r="1.6" fill="#5e3c1a"/>
<circle cx="177.9" cy="161" r="1.6" fill="#5e3c1a"/>
<circle cx="184.6" cy="160.4" r="1.6" fill="#5e3c1a"/>
<circle cx="181.7" cy="162.5" r="1.6" fill="#5e3c1a"/>
<circle cx="176" cy="170.8" r="1.6" fill="#5e3c1a"/>
<circle cx="181.7" cy="171.9" r="1.6" fill="#5e3c1a"/>
<circle cx="186.9" cy="170.8" r="1.6" fill="#5e3c1a"/>
<circle cx="181.7" cy="180.2" r="1.6" fill="#5e3c1a"/>
<circle cx="181.7" cy="186.3" r="1.6" fill="#5e3c1a"/>
<line x1="152.9" y1="149.4" x2="167.3" y2="149.4" stroke="#4a4a4a" stroke-width="1.3"/>
<line x1="160.5" y1="146.2" x2="160.5" y2="152" stroke="#222" stroke-width="0.8"/>
<line x1="156.7" y1="146.5" x2="163.5" y2="146.5" stroke="#222" stroke-width="0.8"/>
<line x1="156.7" y1="152.5" x2="163.5" y2="152.5" stroke="#222" stroke-width="0.8"/>
<line x1="174.6" y1="160.4" x2="188.8" y2="160.4" stroke="#4a4a4a" stroke-width="1.3"/>
<line x1="181.5" y1="157" x2="181.5" y2="163" stroke="#222" stroke-width="0.8"/>
<line x1="178.5" y1="157.5" x2="184.9" y2="157.5" stroke="#222" stroke-width="0.8"/>
<line x1="178.5" y1="163.5" x2="184.9" y2="163.5" stroke="#222" stroke-width="0.8"/>
<text x="173" y="129.28" font-size="4.73" fill="#555" text-anchor="middle" textLength="18.8" lengthAdjust="spacingAndGlyphs">p=0.034</text>
<line x1="163" y1="131.2" x2="184" y2="131.2" stroke="#333" stroke-width="1.25"/>
<text x="160" y="203.19" font-size="5.67" fill="#333" text-anchor="middle" textLength="8" lengthAdjust="spacingAndGlyphs">PBS</text>
<text x="181.7" y="203.19" font-size="5.67" fill="#333" text-anchor="middle" textLength="8.6" lengthAdjust="spacingAndGlyphs">EBV</text>
<line x1="226.3" y1="127.3" x2="226.3" y2="196" stroke="#1a1a1a" stroke-width="1.25"/>
<line x1="223.1" y1="130.5" x2="226.3" y2="130.5" stroke="#1a1a1a" stroke-width="0.9"/>
<text x="220" y="132.02" font-size="5.15" fill="#444" text-anchor="end" textLength="5.28" lengthAdjust="spacingAndGlyphs">10</text>
<line x1="223.1" y1="152.5" x2="226.3" y2="152.5" stroke="#1a1a1a" stroke-width="0.9"/>
<text x="220" y="153.75" font-size="5.15" fill="#444" text-anchor="end" textLength="2.64" lengthAdjust="spacingAndGlyphs">1</text>
<line x1="223.1" y1="173.5" x2="226.3" y2="173.5" stroke="#1a1a1a" stroke-width="0.9"/>
<text x="220" y="175.48" font-size="5.15" fill="#444" text-anchor="end" textLength="6.6" lengthAdjust="spacingAndGlyphs">0.1</text>
<line x1="223.1" y1="195.5" x2="226.3" y2="195.5" stroke="#1a1a1a" stroke-width="0.9"/>
<text x="220" y="197.21" font-size="5.15" fill="#444" text-anchor="end" textLength="9.24" lengthAdjust="spacingAndGlyphs">0.01</text>
<line x1="224.7" y1="175.5" x2="226.3" y2="175.5" stroke="#1a1a1a" stroke-width="0.8"/>
<line x1="224.7" y1="179.5" x2="226.3" y2="179.5" stroke="#1a1a1a" stroke-width="0.8"/>
<line x1="224.7" y1="184.5" x2="226.3" y2="184.5" stroke="#1a1a1a" stroke-width="0.8"/>
<line x1="224.7" y1="154.5" x2="226.3" y2="154.5" stroke="#1a1a1a" stroke-width="0.8"/>
<line x1="224.7" y1="157.5" x2="226.3" y2="157.5" stroke="#1a1a1a" stroke-width="0.8"/>
<line x1="224.7" y1="162.5" x2="226.3" y2="162.5" stroke="#1a1a1a" stroke-width="0.8"/>
<line x1="224.7" y1="132.5" x2="226.3" y2="132.5" stroke="#1a1a1a" stroke-width="0.8"/>
<line x1="224.7" y1="135.5" x2="226.3" y2="135.5" stroke="#1a1a1a" stroke-width="0.8"/>
<line x1="224.7" y1="141.5" x2="226.3" y2="141.5" stroke="#1a1a1a" stroke-width="0.8"/>
<line x1="225.8" y1="195.5" x2="268" y2="195.5" stroke="#1a1a1a" stroke-width="1.25"/>
<text transform="translate(202.06 162.15) rotate(-90)" x="0" y="2.83" font-size="8.51" fill="#1a1a1a" text-anchor="middle" textLength="57.3" lengthAdjust="spacingAndGlyphs">%cDCs of huCD45</text>
<circle cx="231.5" cy="145.2" r="1.5" fill="#fff" stroke="#585858" stroke-width="0.75"/>
<circle cx="241.2" cy="145" r="1.5" fill="#fff" stroke="#585858" stroke-width="0.75"/>
<circle cx="242.1" cy="143.7" r="1.5" fill="#fff" stroke="#585858" stroke-width="0.75"/>
<circle cx="236.9" cy="146.9" r="1.5" fill="#fff" stroke="#585858" stroke-width="0.75"/>
<circle cx="233.5" cy="149.4" r="1.5" fill="#fff" stroke="#585858" stroke-width="0.75"/>
<circle cx="238.3" cy="149.4" r="1.5" fill="#fff" stroke="#585858" stroke-width="0.75"/>
<circle cx="229.6" cy="154.8" r="1.5" fill="#fff" stroke="#585858" stroke-width="0.75"/>
<circle cx="234.4" cy="154.6" r="1.5" fill="#fff" stroke="#585858" stroke-width="0.75"/>
<circle cx="239.6" cy="154.8" r="1.5" fill="#fff" stroke="#585858" stroke-width="0.75"/>
<circle cx="242.1" cy="154.8" r="1.5" fill="#fff" stroke="#585858" stroke-width="0.75"/>
<circle cx="236.9" cy="157.7" r="1.5" fill="#fff" stroke="#585858" stroke-width="0.75"/>
<circle cx="236.9" cy="162.3" r="1.5" fill="#fff" stroke="#585858" stroke-width="0.75"/>
<circle cx="236.9" cy="171.2" r="1.5" fill="#fff" stroke="#585858" stroke-width="0.75"/>
<circle cx="232" cy="147.5" r="1.5" fill="#fff" stroke="#585858" stroke-width="0.75"/>
<circle cx="243.5" cy="150" r="1.5" fill="#fff" stroke="#585858" stroke-width="0.75"/>
<circle cx="235" cy="152.5" r="1.5" fill="#fff" stroke="#585858" stroke-width="0.75"/>
<circle cx="231" cy="157" r="1.5" fill="#fff" stroke="#585858" stroke-width="0.75"/>
<circle cx="240.5" cy="158.5" r="1.5" fill="#fff" stroke="#585858" stroke-width="0.75"/>
<circle cx="254.6" cy="146.5" r="1.6" fill="#5e3c1a"/>
<circle cx="260.4" cy="146.5" r="1.6" fill="#5e3c1a"/>
<circle cx="262.3" cy="153.8" r="1.6" fill="#5e3c1a"/>
<circle cx="255.6" cy="156.2" r="1.6" fill="#5e3c1a"/>
<circle cx="259.4" cy="157.1" r="1.6" fill="#5e3c1a"/>
<circle cx="253.7" cy="159" r="1.6" fill="#5e3c1a"/>
<circle cx="257.5" cy="158.1" r="1.6" fill="#5e3c1a"/>
<circle cx="253.7" cy="163.7" r="1.6" fill="#5e3c1a"/>
<circle cx="258.5" cy="163.1" r="1.6" fill="#5e3c1a"/>
<circle cx="263.3" cy="163.8" r="1.6" fill="#5e3c1a"/>
<circle cx="252.3" cy="168.1" r="1.6" fill="#5e3c1a"/>
<circle cx="256.5" cy="167.3" r="1.6" fill="#5e3c1a"/>
<circle cx="261.3" cy="168.1" r="1.6" fill="#5e3c1a"/>
<circle cx="254" cy="172.5" r="1.6" fill="#5e3c1a"/>
<circle cx="260.4" cy="171.5" r="1.6" fill="#5e3c1a"/>
<circle cx="256.9" cy="174.6" r="1.6" fill="#5e3c1a"/>
<circle cx="257" cy="152" r="1.6" fill="#5e3c1a"/>
<circle cx="262.5" cy="158.5" r="1.6" fill="#5e3c1a"/>
<circle cx="251" cy="160.5" r="1.6" fill="#5e3c1a"/>
<circle cx="256" cy="161" r="1.6" fill="#5e3c1a"/>
<circle cx="260" cy="165.5" r="1.6" fill="#5e3c1a"/>
<circle cx="250.5" cy="164.5" r="1.6" fill="#5e3c1a"/>
<circle cx="263" cy="170" r="1.6" fill="#5e3c1a"/>
<line x1="229.6" y1="151" x2="244.6" y2="151" stroke="#4a4a4a" stroke-width="1.3"/>
<line x1="237.5" y1="149.3" x2="237.5" y2="152.8" stroke="#222" stroke-width="0.8"/>
<line x1="233.8" y1="149.5" x2="240.4" y2="149.5" stroke="#222" stroke-width="0.8"/>
<line x1="233.8" y1="152.5" x2="240.4" y2="152.5" stroke="#222" stroke-width="0.8"/>
<line x1="251.7" y1="158" x2="265.8" y2="158" stroke="#4a4a4a" stroke-width="1.3"/>
<line x1="258.5" y1="156" x2="258.5" y2="160" stroke="#222" stroke-width="0.8"/>
<line x1="255.7" y1="156.5" x2="261.7" y2="156.5" stroke="#222" stroke-width="0.8"/>
<line x1="255.7" y1="160.5" x2="261.7" y2="160.5" stroke="#222" stroke-width="0.8"/>
<text x="249" y="135.27" font-size="4.73" fill="#555" text-anchor="middle" textLength="21.5" lengthAdjust="spacingAndGlyphs">p=0.0022</text>
<line x1="237.5" y1="137" x2="259" y2="137" stroke="#333" stroke-width="1.25"/>
<text x="237" y="203.19" font-size="5.67" fill="#333" text-anchor="middle" textLength="8" lengthAdjust="spacingAndGlyphs">PBS</text>
<text x="258.5" y="203.19" font-size="5.67" fill="#333" text-anchor="middle" textLength="8.6" lengthAdjust="spacingAndGlyphs">EBV</text>
<line x1="310.5" y1="127.3" x2="310.5" y2="196" stroke="#1a1a1a" stroke-width="1.25"/>
<line x1="307.3" y1="130.5" x2="310.5" y2="130.5" stroke="#1a1a1a" stroke-width="0.9"/>
<text x="304.1" y="132.02" font-size="5.15" fill="#444" text-anchor="end" textLength="2.64" lengthAdjust="spacingAndGlyphs">1</text>
<line x1="307.3" y1="152.5" x2="310.5" y2="152.5" stroke="#1a1a1a" stroke-width="0.9"/>
<text x="304.1" y="153.75" font-size="5.15" fill="#444" text-anchor="end" textLength="6.6" lengthAdjust="spacingAndGlyphs">0.1</text>
<line x1="307.3" y1="173.5" x2="310.5" y2="173.5" stroke="#1a1a1a" stroke-width="0.9"/>
<text x="304.1" y="175.48" font-size="5.15" fill="#444" text-anchor="end" textLength="9.24" lengthAdjust="spacingAndGlyphs">0.01</text>
<line x1="307.3" y1="195.5" x2="310.5" y2="195.5" stroke="#1a1a1a" stroke-width="0.9"/>
<text x="304.1" y="197.21" font-size="5.15" fill="#444" text-anchor="end" textLength="11.89" lengthAdjust="spacingAndGlyphs">0.001</text>
<line x1="308.9" y1="175.5" x2="310.5" y2="175.5" stroke="#1a1a1a" stroke-width="0.8"/>
<line x1="308.9" y1="179.5" x2="310.5" y2="179.5" stroke="#1a1a1a" stroke-width="0.8"/>
<line x1="308.9" y1="184.5" x2="310.5" y2="184.5" stroke="#1a1a1a" stroke-width="0.8"/>
<line x1="308.9" y1="154.5" x2="310.5" y2="154.5" stroke="#1a1a1a" stroke-width="0.8"/>
<line x1="308.9" y1="157.5" x2="310.5" y2="157.5" stroke="#1a1a1a" stroke-width="0.8"/>
<line x1="308.9" y1="162.5" x2="310.5" y2="162.5" stroke="#1a1a1a" stroke-width="0.8"/>
<line x1="308.9" y1="132.5" x2="310.5" y2="132.5" stroke="#1a1a1a" stroke-width="0.8"/>
<line x1="308.9" y1="135.5" x2="310.5" y2="135.5" stroke="#1a1a1a" stroke-width="0.8"/>
<line x1="308.9" y1="141.5" x2="310.5" y2="141.5" stroke="#1a1a1a" stroke-width="0.8"/>
<line x1="310" y1="195.5" x2="353.8" y2="195.5" stroke="#1a1a1a" stroke-width="1.25"/>
<text transform="translate(282.06 160.45) rotate(-90)" x="0" y="2.83" font-size="8.51" fill="#1a1a1a" text-anchor="middle" textLength="68.3" lengthAdjust="spacingAndGlyphs">cDCs per spleen (x10<tspan dy="-2.2" font-size="4.6">6</tspan><tspan dy="2.2">)</tspan></text>
<circle cx="321.2" cy="142.3" r="1.5" fill="#fff" stroke="#585858" stroke-width="0.75"/>
<circle cx="321.2" cy="146.9" r="1.5" fill="#fff" stroke="#585858" stroke-width="0.75"/>
<circle cx="316.3" cy="151.9" r="1.5" fill="#fff" stroke="#585858" stroke-width="0.75"/>
<circle cx="321.7" cy="151.3" r="1.5" fill="#fff" stroke="#585858" stroke-width="0.75"/>
<circle cx="326" cy="152.7" r="1.5" fill="#fff" stroke="#585858" stroke-width="0.75"/>
<circle cx="318.8" cy="154.2" r="1.5" fill="#fff" stroke="#585858" stroke-width="0.75"/>
<circle cx="324" cy="154.6" r="1.5" fill="#fff" stroke="#585858" stroke-width="0.75"/>
<circle cx="321.7" cy="156.2" r="1.5" fill="#fff" stroke="#585858" stroke-width="0.75"/>
<circle cx="318.8" cy="160.8" r="1.5" fill="#fff" stroke="#585858" stroke-width="0.75"/>
<circle cx="323.1" cy="160.6" r="1.5" fill="#fff" stroke="#585858" stroke-width="0.75"/>
<circle cx="319.2" cy="168.1" r="1.5" fill="#fff" stroke="#585858" stroke-width="0.75"/>
<circle cx="323.1" cy="171.2" r="1.5" fill="#fff" stroke="#585858" stroke-width="0.75"/>
<circle cx="321.2" cy="185.4" r="1.5" fill="#fff" stroke="#585858" stroke-width="0.75"/>
<circle cx="337.5" cy="142.1" r="1.6" fill="#5e3c1a"/>
<circle cx="342.9" cy="140.2" r="1.6" fill="#5e3c1a"/>
<circle cx="347.1" cy="143.1" r="1.6" fill="#5e3c1a"/>
<circle cx="341.3" cy="144" r="1.6" fill="#5e3c1a"/>
<circle cx="349" cy="143.7" r="1.6" fill="#5e3c1a"/>
<circle cx="338.5" cy="149.4" r="1.6" fill="#5e3c1a"/>
<circle cx="343.3" cy="150.4" r="1.6" fill="#5e3c1a"/>
<circle cx="348.1" cy="149.4" r="1.6" fill="#5e3c1a"/>
<circle cx="337.5" cy="155.2" r="1.6" fill="#5e3c1a"/>
<circle cx="342.7" cy="157.7" r="1.6" fill="#5e3c1a"/>
<circle cx="349" cy="155.2" r="1.6" fill="#5e3c1a"/>
<circle cx="337.5" cy="162.3" r="1.6" fill="#5e3c1a"/>
<circle cx="341.3" cy="161.5" r="1.6" fill="#5e3c1a"/>
<circle cx="346.2" cy="161.9" r="1.6" fill="#5e3c1a"/>
<circle cx="339.4" cy="166.7" r="1.6" fill="#5e3c1a"/>
<circle cx="345.2" cy="169.6" r="1.6" fill="#5e3c1a"/>
<circle cx="342.9" cy="182.1" r="1.6" fill="#5e3c1a"/>
<line x1="314.4" y1="154.2" x2="328.8" y2="154.2" stroke="#4a4a4a" stroke-width="1.3"/>
<line x1="321.5" y1="152" x2="321.5" y2="156.5" stroke="#222" stroke-width="0.8"/>
<line x1="318.3" y1="152.5" x2="324.9" y2="152.5" stroke="#222" stroke-width="0.8"/>
<line x1="318.3" y1="156.5" x2="324.9" y2="156.5" stroke="#222" stroke-width="0.8"/>
<line x1="336.2" y1="150.4" x2="350.4" y2="150.4" stroke="#4a4a4a" stroke-width="1.3"/>
<line x1="343.5" y1="148" x2="343.5" y2="152.8" stroke="#222" stroke-width="0.8"/>
<line x1="340" y1="148.5" x2="346.6" y2="148.5" stroke="#222" stroke-width="0.8"/>
<line x1="340" y1="152.5" x2="346.6" y2="152.5" stroke="#222" stroke-width="0.8"/>
<text x="321.2" y="203.19" font-size="5.67" fill="#333" text-anchor="middle" textLength="8" lengthAdjust="spacingAndGlyphs">PBS</text>
<text x="342.9" y="203.19" font-size="5.67" fill="#333" text-anchor="middle" textLength="8.6" lengthAdjust="spacingAndGlyphs">EBV</text>
<line x1="398" y1="30.2" x2="398" y2="99.2" stroke="#1a1a1a" stroke-width="1.6"/>
<line x1="394.8" y1="33.5" x2="398" y2="33.5" stroke="#1a1a1a" stroke-width="0.9"/>
<text x="391.8" y="35.12" font-size="5.15" fill="#444" text-anchor="end" textLength="5.28" lengthAdjust="spacingAndGlyphs">10</text>
<line x1="394.8" y1="49.5" x2="398" y2="49.5" stroke="#1a1a1a" stroke-width="0.9"/>
<text x="391.8" y="51.45" font-size="5.15" fill="#444" text-anchor="end" textLength="2.64" lengthAdjust="spacingAndGlyphs">1</text>
<line x1="394.8" y1="66.5" x2="398" y2="66.5" stroke="#1a1a1a" stroke-width="0.9"/>
<text x="391.8" y="67.78" font-size="5.15" fill="#444" text-anchor="end" textLength="6.6" lengthAdjust="spacingAndGlyphs">0.1</text>
<line x1="394.8" y1="82.5" x2="398" y2="82.5" stroke="#1a1a1a" stroke-width="0.9"/>
<text x="391.8" y="84.1" font-size="5.15" fill="#444" text-anchor="end" textLength="9.24" lengthAdjust="spacingAndGlyphs">0.01</text>
<line x1="394.8" y1="98.5" x2="398" y2="98.5" stroke="#1a1a1a" stroke-width="0.9"/>
<text x="391.8" y="100.44" font-size="5.15" fill="#444" text-anchor="end" textLength="11.89" lengthAdjust="spacingAndGlyphs">0.001</text>
<line x1="396.4" y1="84.5" x2="398" y2="84.5" stroke="#1a1a1a" stroke-width="0.8"/>
<line x1="396.4" y1="86.5" x2="398" y2="86.5" stroke="#1a1a1a" stroke-width="0.8"/>
<line x1="396.4" y1="90.5" x2="398" y2="90.5" stroke="#1a1a1a" stroke-width="0.8"/>
<line x1="396.4" y1="67.5" x2="398" y2="67.5" stroke="#1a1a1a" stroke-width="0.8"/>
<line x1="396.4" y1="70.5" x2="398" y2="70.5" stroke="#1a1a1a" stroke-width="0.8"/>
<line x1="396.4" y1="74.5" x2="398" y2="74.5" stroke="#1a1a1a" stroke-width="0.8"/>
<line x1="396.4" y1="51.5" x2="398" y2="51.5" stroke="#1a1a1a" stroke-width="0.8"/>
<line x1="396.4" y1="53.5" x2="398" y2="53.5" stroke="#1a1a1a" stroke-width="0.8"/>
<line x1="396.4" y1="57.5" x2="398" y2="57.5" stroke="#1a1a1a" stroke-width="0.8"/>
<line x1="396.4" y1="35.5" x2="398" y2="35.5" stroke="#1a1a1a" stroke-width="0.8"/>
<line x1="396.4" y1="37.5" x2="398" y2="37.5" stroke="#1a1a1a" stroke-width="0.8"/>
<line x1="396.4" y1="41.5" x2="398" y2="41.5" stroke="#1a1a1a" stroke-width="0.8"/>
<line x1="397.5" y1="98.7" x2="513" y2="98.7" stroke="#1a1a1a" stroke-width="1.3"/>
<text transform="translate(371.56 64.5) rotate(-90)" x="0" y="2.83" font-size="8.51" fill="#1a1a1a" text-anchor="middle" textLength="57" lengthAdjust="spacingAndGlyphs">%pDCs of huCD45</text>
<line x1="408.5" y1="98.8" x2="408.5" y2="101.6" stroke="#1a1a1a" stroke-width="0.8"/>
<line x1="424.5" y1="98.8" x2="424.5" y2="101.6" stroke="#1a1a1a" stroke-width="0.8"/>
<line x1="440.5" y1="98.8" x2="440.5" y2="101.6" stroke="#1a1a1a" stroke-width="0.8"/>
<line x1="457.5" y1="98.8" x2="457.5" y2="101.6" stroke="#1a1a1a" stroke-width="0.8"/>
<line x1="473.5" y1="98.8" x2="473.5" y2="101.6" stroke="#1a1a1a" stroke-width="0.8"/>
<line x1="489.5" y1="98.8" x2="489.5" y2="101.6" stroke="#1a1a1a" stroke-width="0.8"/>
<line x1="505.5" y1="98.8" x2="505.5" y2="101.6" stroke="#1a1a1a" stroke-width="0.8"/>
<circle cx="403" cy="58" r="1.4" fill="#a3223a"/>
<circle cx="406" cy="56.5" r="1.4" fill="#a3223a"/>
<circle cx="409.5" cy="56.5" r="1.4" fill="#a3223a"/>
<circle cx="412.5" cy="58" r="1.4" fill="#a3223a"/>
<circle cx="405.5" cy="61" r="1.4" fill="#a3223a"/>
<circle cx="409.5" cy="61" r="1.4" fill="#a3223a"/>
<circle cx="407.6" cy="64" r="1.4" fill="#a3223a"/>
<circle cx="402.5" cy="62" r="1.4" fill="#a3223a"/>
<circle cx="412.8" cy="62.2" r="1.4" fill="#a3223a"/>
<circle cx="408.4" cy="44.3" r="1.4" fill="#a3223a"/>
<circle cx="408.4" cy="49.1" r="1.4" fill="#a3223a"/>
<circle cx="403.3" cy="50.8" r="1.4" fill="#a3223a"/>
<circle cx="413.4" cy="51.7" r="1.4" fill="#a3223a"/>
<circle cx="406.5" cy="53" r="1.4" fill="#a3223a"/>
<circle cx="410" cy="53.5" r="1.4" fill="#a3223a"/>
<circle cx="402.8" cy="54.9" r="1.4" fill="#a3223a"/>
<circle cx="413.4" cy="55.4" r="1.4" fill="#a3223a"/>
<circle cx="405.7" cy="57.8" r="1.4" fill="#a3223a"/>
<circle cx="411" cy="57.3" r="1.4" fill="#a3223a"/>
<circle cx="404.3" cy="60.2" r="1.4" fill="#a3223a"/>
<circle cx="412.4" cy="60.2" r="1.4" fill="#a3223a"/>
<circle cx="407.6" cy="59.2" r="1.4" fill="#a3223a"/>
<circle cx="404.7" cy="63" r="1.4" fill="#a3223a"/>
<circle cx="411.5" cy="63" r="1.4" fill="#a3223a"/>
<circle cx="407.6" cy="62.1" r="1.4" fill="#a3223a"/>
<circle cx="406.7" cy="66" r="1.4" fill="#a3223a"/>
<circle cx="409.5" cy="65" r="1.4" fill="#a3223a"/>
<circle cx="418.5" cy="56.3" r="1.4" fill="#2e4e7e"/>
<circle cx="421" cy="56.5" r="1.4" fill="#2e4e7e"/>
<circle cx="423.5" cy="57" r="1.4" fill="#2e4e7e"/>
<circle cx="426" cy="57" r="1.4" fill="#2e4e7e"/>
<circle cx="428.5" cy="56.5" r="1.4" fill="#2e4e7e"/>
<circle cx="431" cy="56.3" r="1.4" fill="#2e4e7e"/>
<circle cx="420.5" cy="58.3" r="1.4" fill="#2e4e7e"/>
<circle cx="423" cy="59" r="1.4" fill="#2e4e7e"/>
<circle cx="425.8" cy="59" r="1.4" fill="#2e4e7e"/>
<circle cx="428.3" cy="58.3" r="1.4" fill="#2e4e7e"/>
<circle cx="424.4" cy="60.8" r="1.4" fill="#2e4e7e"/>
<circle cx="420.6" cy="48.7" r="1.4" fill="#2e4e7e"/>
<circle cx="424.4" cy="49.6" r="1.4" fill="#2e4e7e"/>
<circle cx="428.6" cy="47.5" r="1.4" fill="#2e4e7e"/>
<circle cx="420.1" cy="56.8" r="1.4" fill="#2e4e7e"/>
<circle cx="423" cy="57.8" r="1.4" fill="#2e4e7e"/>
<circle cx="425.9" cy="57.8" r="1.4" fill="#2e4e7e"/>
<circle cx="428.8" cy="56.8" r="1.4" fill="#2e4e7e"/>
<circle cx="424.4" cy="59.2" r="1.4" fill="#2e4e7e"/>
<circle cx="420.6" cy="65" r="1.4" fill="#2e4e7e"/>
<circle cx="424.4" cy="67.9" r="1.4" fill="#2e4e7e"/>
<circle cx="428.3" cy="67.4" r="1.4" fill="#2e4e7e"/>
<circle cx="424.4" cy="73.5" r="1.4" fill="#2e4e7e"/>
<circle cx="424.4" cy="82.3" r="1.4" fill="#2e4e7e"/>
<circle cx="435.3" cy="58.3" r="1.4" fill="#6aae48"/>
<circle cx="437.8" cy="58.8" r="1.4" fill="#6aae48"/>
<circle cx="440.3" cy="59.3" r="1.4" fill="#6aae48"/>
<circle cx="442.8" cy="59.3" r="1.4" fill="#6aae48"/>
<circle cx="445.3" cy="58.8" r="1.4" fill="#6aae48"/>
<circle cx="447.5" cy="58.3" r="1.4" fill="#6aae48"/>
<circle cx="441" cy="60.5" r="1.4" fill="#6aae48"/>
<circle cx="439" cy="61" r="1.4" fill="#6aae48"/>
<circle cx="440.8" cy="50.4" r="1.4" fill="#6aae48"/>
<circle cx="438.9" cy="54" r="1.4" fill="#6aae48"/>
<circle cx="445.6" cy="53" r="1.4" fill="#6aae48"/>
<circle cx="443.2" cy="54.9" r="1.4" fill="#6aae48"/>
<circle cx="436" cy="57.8" r="1.4" fill="#6aae48"/>
<circle cx="438.5" cy="58.3" r="1.4" fill="#6aae48"/>
<circle cx="441" cy="58.3" r="1.4" fill="#6aae48"/>
<circle cx="443.5" cy="58.3" r="1.4" fill="#6aae48"/>
<circle cx="446.5" cy="57.8" r="1.4" fill="#6aae48"/>
<circle cx="440.8" cy="62.1" r="1.4" fill="#6aae48"/>
<circle cx="435.5" cy="65.8" r="1.4" fill="#6aae48"/>
<circle cx="438.9" cy="68.1" r="1.4" fill="#6aae48"/>
<circle cx="442.4" cy="68.6" r="1.4" fill="#6aae48"/>
<circle cx="446.1" cy="66" r="1.4" fill="#6aae48"/>
<circle cx="438.9" cy="82.3" r="1.4" fill="#6aae48"/>
<circle cx="442.7" cy="81.8" r="1.4" fill="#6aae48"/>
<circle cx="451" cy="60.5" r="1.4" fill="#5a2660"/>
<circle cx="454" cy="61" r="1.4" fill="#5a2660"/>
<circle cx="460.5" cy="61" r="1.4" fill="#5a2660"/>
<circle cx="463.5" cy="60" r="1.4" fill="#5a2660"/>
<circle cx="456.5" cy="60.5" r="1.4" fill="#5a2660"/>
<circle cx="454" cy="65" r="1.4" fill="#5a2660"/>
<circle cx="460" cy="64.5" r="1.4" fill="#5a2660"/>
<circle cx="457.1" cy="52" r="1.4" fill="#5a2660"/>
<circle cx="452.9" cy="54.4" r="1.4" fill="#5a2660"/>
<circle cx="462.8" cy="55.2" r="1.4" fill="#5a2660"/>
<circle cx="457.1" cy="56.3" r="1.4" fill="#5a2660"/>
<circle cx="453.2" cy="58.8" r="1.4" fill="#5a2660"/>
<circle cx="460.4" cy="58.3" r="1.4" fill="#5a2660"/>
<circle cx="452.3" cy="62.2" r="1.4" fill="#5a2660"/>
<circle cx="455.2" cy="63.1" r="1.4" fill="#5a2660"/>
<circle cx="458.5" cy="63.1" r="1.4" fill="#5a2660"/>
<circle cx="461.9" cy="62.6" r="1.4" fill="#5a2660"/>
<circle cx="455.6" cy="65.5" r="1.4" fill="#5a2660"/>
<circle cx="459" cy="65.5" r="1.4" fill="#5a2660"/>
<circle cx="457.1" cy="71.3" r="1.4" fill="#5a2660"/>
<circle cx="457.1" cy="82.3" r="1.4" fill="#5a2660"/>
<circle cx="467.5" cy="55.2" r="1.4" fill="#eb9a2c"/>
<circle cx="469.5" cy="56.8" r="1.4" fill="#eb9a2c"/>
<circle cx="471.5" cy="58" r="1.4" fill="#eb9a2c"/>
<circle cx="473.4" cy="58.5" r="1.4" fill="#eb9a2c"/>
<circle cx="475.3" cy="58" r="1.4" fill="#eb9a2c"/>
<circle cx="477.3" cy="56.8" r="1.4" fill="#eb9a2c"/>
<circle cx="479.2" cy="55.2" r="1.4" fill="#eb9a2c"/>
<circle cx="467.8" cy="61.5" r="1.4" fill="#eb9a2c"/>
<circle cx="470" cy="62.2" r="1.4" fill="#eb9a2c"/>
<circle cx="472.8" cy="62.6" r="1.4" fill="#eb9a2c"/>
<circle cx="475.6" cy="62.4" r="1.4" fill="#eb9a2c"/>
<circle cx="478" cy="61.5" r="1.4" fill="#eb9a2c"/>
<circle cx="468.6" cy="55.9" r="1.4" fill="#eb9a2c"/>
<circle cx="470.5" cy="57.3" r="1.4" fill="#eb9a2c"/>
<circle cx="473.4" cy="57.8" r="1.4" fill="#eb9a2c"/>
<circle cx="476.3" cy="56.8" r="1.4" fill="#eb9a2c"/>
<circle cx="478.2" cy="54.9" r="1.4" fill="#eb9a2c"/>
<circle cx="469.1" cy="62.1" r="1.4" fill="#eb9a2c"/>
<circle cx="473.4" cy="62.6" r="1.4" fill="#eb9a2c"/>
<circle cx="477.3" cy="62.1" r="1.4" fill="#eb9a2c"/>
<circle cx="468.1" cy="64.5" r="1.4" fill="#eb9a2c"/>
<circle cx="471.5" cy="65.5" r="1.4" fill="#eb9a2c"/>
<circle cx="478.7" cy="65.2" r="1.4" fill="#eb9a2c"/>
<circle cx="474.8" cy="68.1" r="1.4" fill="#eb9a2c"/>
<circle cx="475.3" cy="75.4" r="1.4" fill="#eb9a2c"/>
<circle cx="471.2" cy="77.5" r="1.4" fill="#eb9a2c"/>
<circle cx="473.4" cy="82.3" r="1.4" fill="#eb9a2c"/>
<circle cx="473.1" cy="98.6" r="1.4" fill="#eb9a2c"/>
<circle cx="484.5" cy="60.5" r="1.4" fill="#2e6a4e"/>
<circle cx="487" cy="61.5" r="1.4" fill="#2e6a4e"/>
<circle cx="491.5" cy="61.5" r="1.4" fill="#2e6a4e"/>
<circle cx="494" cy="60.5" r="1.4" fill="#2e6a4e"/>
<circle cx="486" cy="64" r="1.4" fill="#2e6a4e"/>
<circle cx="489" cy="64.5" r="1.4" fill="#2e6a4e"/>
<circle cx="492" cy="64" r="1.4" fill="#2e6a4e"/>
<circle cx="488" cy="70.5" r="1.4" fill="#2e6a4e"/>
<circle cx="491" cy="70.5" r="1.4" fill="#2e6a4e"/>
<circle cx="485.4" cy="55.4" r="1.4" fill="#2e6a4e"/>
<circle cx="491.4" cy="55.2" r="1.4" fill="#2e6a4e"/>
<circle cx="487.3" cy="59.2" r="1.4" fill="#2e6a4e"/>
<circle cx="490.2" cy="59.2" r="1.4" fill="#2e6a4e"/>
<circle cx="484.5" cy="62.1" r="1.4" fill="#2e6a4e"/>
<circle cx="488.3" cy="62.6" r="1.4" fill="#2e6a4e"/>
<circle cx="492.2" cy="61.2" r="1.4" fill="#2e6a4e"/>
<circle cx="494.6" cy="62.6" r="1.4" fill="#2e6a4e"/>
<circle cx="486.4" cy="66" r="1.4" fill="#2e6a4e"/>
<circle cx="489.3" cy="66.4" r="1.4" fill="#2e6a4e"/>
<circle cx="492.6" cy="66" r="1.4" fill="#2e6a4e"/>
<circle cx="487.3" cy="68.5" r="1.4" fill="#2e6a4e"/>
<circle cx="490.7" cy="68.8" r="1.4" fill="#2e6a4e"/>
<circle cx="489.8" cy="73.7" r="1.4" fill="#2e6a4e"/>
<circle cx="501.6" cy="58.4" r="1.4" fill="#9a8cd0"/>
<circle cx="505.7" cy="58.7" r="1.4" fill="#9a8cd0"/>
<circle cx="509.6" cy="58.7" r="1.4" fill="#9a8cd0"/>
<circle cx="503.5" cy="61.8" r="1.4" fill="#9a8cd0"/>
<circle cx="509.4" cy="64.7" r="1.4" fill="#9a8cd0"/>
<circle cx="502.3" cy="69" r="1.4" fill="#9a8cd0"/>
<circle cx="505.1" cy="69.4" r="1.4" fill="#9a8cd0"/>
<circle cx="507.8" cy="69.2" r="1.4" fill="#9a8cd0"/>
<circle cx="509.8" cy="69" r="1.4" fill="#9a8cd0"/>
<circle cx="500.4" cy="72.1" r="1.4" fill="#9a8cd0"/>
<circle cx="503.9" cy="74.2" r="1.4" fill="#9a8cd0"/>
<circle cx="507.4" cy="74.5" r="1.4" fill="#9a8cd0"/>
<circle cx="511" cy="73.3" r="1.4" fill="#9a8cd0"/>
<circle cx="507.8" cy="77.5" r="1.4" fill="#9a8cd0"/>
<circle cx="503.5" cy="79.2" r="1.4" fill="#9a8cd0"/>
<line x1="401.2" y1="54.5" x2="415.2" y2="54.5" stroke="#6a6a6a" stroke-width="1.2"/>
<line x1="408.5" y1="53.1" x2="408.5" y2="56.7" stroke="#222" stroke-width="0.7"/>
<line x1="405.6" y1="53.5" x2="410.8" y2="53.5" stroke="#222" stroke-width="0.7"/>
<line x1="405.6" y1="56.5" x2="410.8" y2="56.5" stroke="#222" stroke-width="0.7"/>
<line x1="417.3" y1="56.5" x2="431.3" y2="56.5" stroke="#6a6a6a" stroke-width="1.2"/>
<line x1="424.5" y1="54.5" x2="424.5" y2="58.1" stroke="#222" stroke-width="0.7"/>
<line x1="421.7" y1="54.5" x2="426.9" y2="54.5" stroke="#222" stroke-width="0.7"/>
<line x1="421.7" y1="58.5" x2="426.9" y2="58.5" stroke="#222" stroke-width="0.7"/>
<line x1="433.7" y1="58.5" x2="447.7" y2="58.5" stroke="#6a6a6a" stroke-width="1.2"/>
<line x1="440.5" y1="56.5" x2="440.5" y2="60.1" stroke="#222" stroke-width="0.7"/>
<line x1="438.1" y1="56.5" x2="443.3" y2="56.5" stroke="#222" stroke-width="0.7"/>
<line x1="438.1" y1="60.5" x2="443.3" y2="60.5" stroke="#222" stroke-width="0.7"/>
<line x1="450" y1="60.5" x2="464" y2="60.5" stroke="#6a6a6a" stroke-width="1.2"/>
<line x1="457.5" y1="58.4" x2="457.5" y2="62" stroke="#222" stroke-width="0.7"/>
<line x1="454.4" y1="58.5" x2="459.6" y2="58.5" stroke="#222" stroke-width="0.7"/>
<line x1="454.4" y1="62.5" x2="459.6" y2="62.5" stroke="#222" stroke-width="0.7"/>
<line x1="466.1" y1="60.5" x2="480.1" y2="60.5" stroke="#6a6a6a" stroke-width="1.2"/>
<line x1="473.5" y1="58.9" x2="473.5" y2="62.5" stroke="#222" stroke-width="0.7"/>
<line x1="470.5" y1="58.5" x2="475.7" y2="58.5" stroke="#222" stroke-width="0.7"/>
<line x1="470.5" y1="62.5" x2="475.7" y2="62.5" stroke="#222" stroke-width="0.7"/>
<line x1="482.2" y1="62.5" x2="496.2" y2="62.5" stroke="#6a6a6a" stroke-width="1.2"/>
<line x1="489.5" y1="60.8" x2="489.5" y2="64.4" stroke="#222" stroke-width="0.7"/>
<line x1="486.6" y1="60.5" x2="491.8" y2="60.5" stroke="#222" stroke-width="0.7"/>
<line x1="486.6" y1="64.5" x2="491.8" y2="64.5" stroke="#222" stroke-width="0.7"/>
<line x1="498.6" y1="65.5" x2="512.6" y2="65.5" stroke="#6a6a6a" stroke-width="1.2"/>
<line x1="505.5" y1="64.1" x2="505.5" y2="67.7" stroke="#222" stroke-width="0.7"/>
<line x1="503" y1="64.5" x2="508.2" y2="64.5" stroke="#222" stroke-width="0.7"/>
<line x1="503" y1="67.5" x2="508.2" y2="67.5" stroke="#222" stroke-width="0.7"/>
<text transform="translate(410.8 106.8) rotate(-45)" x="0" y="0" dy="0.35em" font-size="5.2" fill="#333" text-anchor="end">W-1</text>
<text transform="translate(426.9 106.8) rotate(-45)" x="0" y="0" dy="0.35em" font-size="5.2" fill="#333" text-anchor="end">day0</text>
<text transform="translate(443.3 106.8) rotate(-45)" x="0" y="0" dy="0.35em" font-size="5.2" fill="#333" text-anchor="end">W1</text>
<text transform="translate(459.6 106.8) rotate(-45)" x="0" y="0" dy="0.35em" font-size="5.2" fill="#333" text-anchor="end">W2</text>
<text transform="translate(475.7 106.8) rotate(-45)" x="0" y="0" dy="0.35em" font-size="5.2" fill="#333" text-anchor="end">W3</text>
<text transform="translate(491.8 106.8) rotate(-45)" x="0" y="0" dy="0.35em" font-size="5.2" fill="#333" text-anchor="end">W4</text>
<text transform="translate(508.2 106.8) rotate(-45)" x="0" y="0" dy="0.35em" font-size="5.2" fill="#333" text-anchor="end">W5</text>
<line x1="408" y1="14.5" x2="456.7" y2="14.5" stroke="#1a1a1a" stroke-width="0.9"/>
<text x="430.2" y="11.88" font-size="5.04" fill="#222" text-anchor="middle" textLength="21.6" lengthAdjust="spacingAndGlyphs">p=0.0486</text>
<line x1="408" y1="23.5" x2="473" y2="23.5" stroke="#1a1a1a" stroke-width="0.9"/>
<text x="437.3" y="21.18" font-size="5.04" fill="#222" text-anchor="middle" textLength="21.6" lengthAdjust="spacingAndGlyphs">p=0.0123</text>
<line x1="408" y1="32.5" x2="488.9" y2="32.5" stroke="#1a1a1a" stroke-width="0.9"/>
<text x="446" y="30.28" font-size="5.04" fill="#222" text-anchor="middle" textLength="21.6" lengthAdjust="spacingAndGlyphs">p=0.0123</text>
<line x1="408" y1="41.5" x2="505.4" y2="41.5" stroke="#1a1a1a" stroke-width="0.9"/>
<text x="454" y="39.38" font-size="5.04" fill="#222" text-anchor="middle" textLength="21.6" lengthAdjust="spacingAndGlyphs">p=0.0128</text>
<line x1="398" y1="130.5" x2="398" y2="196" stroke="#1a1a1a" stroke-width="1.6"/>
<line x1="394.8" y1="134.5" x2="398" y2="134.5" stroke="#1a1a1a" stroke-width="0.9"/>
<text x="393" y="135.81" font-size="4.83" fill="#444" text-anchor="end">10<tspan dy="-1.6" font-size="3.2">5</tspan></text>
<line x1="394.8" y1="154.5" x2="398" y2="154.5" stroke="#1a1a1a" stroke-width="0.9"/>
<text x="393" y="156.24" font-size="4.83" fill="#444" text-anchor="end">10<tspan dy="-1.6" font-size="3.2">4</tspan></text>
<line x1="394.8" y1="175.5" x2="398" y2="175.5" stroke="#1a1a1a" stroke-width="0.9"/>
<text x="393" y="176.67" font-size="4.83" fill="#444" text-anchor="end">10<tspan dy="-1.6" font-size="3.2">3</tspan></text>
<line x1="394.8" y1="195.5" x2="398" y2="195.5" stroke="#1a1a1a" stroke-width="0.9"/>
<text x="393" y="197.1" font-size="4.83" fill="#444" text-anchor="end">10<tspan dy="-1.6" font-size="3.2">2</tspan></text>
<line x1="396.4" y1="177.5" x2="398" y2="177.5" stroke="#1a1a1a" stroke-width="0.8"/>
<line x1="396.4" y1="180.5" x2="398" y2="180.5" stroke="#1a1a1a" stroke-width="0.8"/>
<line x1="396.4" y1="185.5" x2="398" y2="185.5" stroke="#1a1a1a" stroke-width="0.8"/>
<line x1="396.4" y1="156.5" x2="398" y2="156.5" stroke="#1a1a1a" stroke-width="0.8"/>
<line x1="396.4" y1="159.5" x2="398" y2="159.5" stroke="#1a1a1a" stroke-width="0.8"/>
<line x1="396.4" y1="164.5" x2="398" y2="164.5" stroke="#1a1a1a" stroke-width="0.8"/>
<line x1="396.4" y1="136.5" x2="398" y2="136.5" stroke="#1a1a1a" stroke-width="0.8"/>
<line x1="396.4" y1="139.5" x2="398" y2="139.5" stroke="#1a1a1a" stroke-width="0.8"/>
<line x1="396.4" y1="144.5" x2="398" y2="144.5" stroke="#1a1a1a" stroke-width="0.8"/>
<line x1="397.5" y1="195.5" x2="512.8" y2="195.5" stroke="#1a1a1a" stroke-width="1.3"/>
<text transform="translate(364.6 162.7) rotate(-90)" x="0" y="2.59" font-size="7.77" fill="#111" text-anchor="middle" textLength="33.8" lengthAdjust="spacingAndGlyphs">Total pDCs</text>
<text transform="translate(375.6 163.5) rotate(-90)" x="0" y="2.59" font-size="7.77" fill="#111" text-anchor="middle" textLength="77" lengthAdjust="spacingAndGlyphs">(10<tspan dy="-2.2" font-size="4.6">6</tspan><tspan dy="2.2"> per ml whole blood)</tspan></text>
<line x1="409.5" y1="195.4" x2="409.5" y2="198.2" stroke="#1a1a1a" stroke-width="0.8"/>
<line x1="429.5" y1="195.4" x2="429.5" y2="198.2" stroke="#1a1a1a" stroke-width="0.8"/>
<line x1="448.5" y1="195.4" x2="448.5" y2="198.2" stroke="#1a1a1a" stroke-width="0.8"/>
<line x1="467.5" y1="195.4" x2="467.5" y2="198.2" stroke="#1a1a1a" stroke-width="0.8"/>
<line x1="486.5" y1="195.4" x2="486.5" y2="198.2" stroke="#1a1a1a" stroke-width="0.8"/>
<line x1="506.5" y1="195.4" x2="506.5" y2="198.2" stroke="#1a1a1a" stroke-width="0.8"/>
<circle cx="408.4" cy="158.3" r="1.45" fill="#a3223a"/>
<circle cx="402.6" cy="161.2" r="1.45" fill="#a3223a"/>
<circle cx="414.2" cy="160.3" r="1.45" fill="#a3223a"/>
<circle cx="406.1" cy="164" r="1.45" fill="#a3223a"/>
<circle cx="410.7" cy="162.3" r="1.45" fill="#a3223a"/>
<circle cx="402.6" cy="166.3" r="1.45" fill="#a3223a"/>
<circle cx="414.7" cy="166.3" r="1.45" fill="#a3223a"/>
<circle cx="405.5" cy="169" r="1.45" fill="#a3223a"/>
<circle cx="409" cy="169.2" r="1.45" fill="#a3223a"/>
<circle cx="411.8" cy="167.5" r="1.45" fill="#a3223a"/>
<circle cx="408.4" cy="173" r="1.45" fill="#a3223a"/>
<circle cx="429.2" cy="154" r="1.45" fill="#2e4e7e"/>
<circle cx="426.8" cy="160" r="1.45" fill="#2e4e7e"/>
<circle cx="431.5" cy="160" r="1.45" fill="#2e4e7e"/>
<circle cx="425.7" cy="165.2" r="1.45" fill="#2e4e7e"/>
<circle cx="429.2" cy="163.5" r="1.45" fill="#2e4e7e"/>
<circle cx="432.6" cy="164.6" r="1.45" fill="#2e4e7e"/>
<circle cx="429.2" cy="166.9" r="1.45" fill="#2e4e7e"/>
<circle cx="429.2" cy="173" r="1.45" fill="#2e4e7e"/>
<circle cx="442.4" cy="162.3" r="1.45" fill="#6aae48"/>
<circle cx="445.3" cy="163.5" r="1.45" fill="#6aae48"/>
<circle cx="451.1" cy="162.9" r="1.45" fill="#6aae48"/>
<circle cx="454.3" cy="161.4" r="1.45" fill="#6aae48"/>
<circle cx="448.2" cy="165.2" r="1.45" fill="#6aae48"/>
<circle cx="444.2" cy="168" r="1.45" fill="#6aae48"/>
<circle cx="452.2" cy="169.2" r="1.45" fill="#6aae48"/>
<circle cx="448.2" cy="170.4" r="1.45" fill="#6aae48"/>
<circle cx="446.5" cy="176.4" r="1.45" fill="#6aae48"/>
<circle cx="450.2" cy="177" r="1.45" fill="#6aae48"/>
<circle cx="448.2" cy="195.4" r="1.45" fill="#6aae48"/>
<circle cx="464" cy="163.6" r="1.45" fill="#5a2660"/>
<circle cx="469.5" cy="161.3" r="1.45" fill="#5a2660"/>
<circle cx="467.6" cy="169.7" r="1.45" fill="#5a2660"/>
<circle cx="467.5" cy="175.4" r="1.45" fill="#5a2660"/>
<circle cx="486.7" cy="163.6" r="1.45" fill="#eb9a2c"/>
<circle cx="483" cy="169.8" r="1.45" fill="#eb9a2c"/>
<circle cx="489.4" cy="168" r="1.45" fill="#eb9a2c"/>
<circle cx="486" cy="170.5" r="1.45" fill="#eb9a2c"/>
<circle cx="488.5" cy="173.5" r="1.45" fill="#eb9a2c"/>
<circle cx="486.7" cy="189.2" r="1.45" fill="#eb9a2c"/>
<circle cx="506" cy="165.5" r="1.45" fill="#2e6a4e"/>
<circle cx="505" cy="170.6" r="1.45" fill="#2e6a4e"/>
<circle cx="508" cy="170" r="1.45" fill="#2e6a4e"/>
<circle cx="506" cy="176.5" r="1.45" fill="#2e6a4e"/>
<circle cx="503.4" cy="184" r="1.45" fill="#2e6a4e"/>
<circle cx="508.5" cy="184" r="1.45" fill="#2e6a4e"/>
<line x1="402" y1="164.5" x2="416.4" y2="164.5" stroke="#333" stroke-width="1"/>
<line x1="409.5" y1="163" x2="409.5" y2="166.2" stroke="#222" stroke-width="0.7"/>
<line x1="406.6" y1="163.5" x2="411.8" y2="163.5" stroke="#222" stroke-width="0.7"/>
<line x1="406.6" y1="166.5" x2="411.8" y2="166.5" stroke="#222" stroke-width="0.7"/>
<line x1="422" y1="161.5" x2="436.4" y2="161.5" stroke="#333" stroke-width="1"/>
<line x1="429.5" y1="159.5" x2="429.5" y2="163.5" stroke="#222" stroke-width="0.7"/>
<line x1="426.6" y1="159.5" x2="431.8" y2="159.5" stroke="#222" stroke-width="0.7"/>
<line x1="426.6" y1="163.5" x2="431.8" y2="163.5" stroke="#222" stroke-width="0.7"/>
<line x1="441.1" y1="166.5" x2="455.5" y2="166.5" stroke="#333" stroke-width="1"/>
<line x1="448.5" y1="165.1" x2="448.5" y2="168.7" stroke="#222" stroke-width="0.7"/>
<line x1="445.7" y1="165.5" x2="450.9" y2="165.5" stroke="#222" stroke-width="0.7"/>
<line x1="445.7" y1="168.5" x2="450.9" y2="168.5" stroke="#222" stroke-width="0.7"/>
<line x1="460.3" y1="166.5" x2="474.7" y2="166.5" stroke="#333" stroke-width="1"/>
<line x1="467.5" y1="163.5" x2="467.5" y2="169.5" stroke="#222" stroke-width="0.7"/>
<line x1="464.9" y1="163.5" x2="470.1" y2="163.5" stroke="#222" stroke-width="0.7"/>
<line x1="464.9" y1="169.5" x2="470.1" y2="169.5" stroke="#222" stroke-width="0.7"/>
<line x1="479.5" y1="170.5" x2="493.9" y2="170.5" stroke="#333" stroke-width="1"/>
<line x1="486.5" y1="168.1" x2="486.5" y2="172.5" stroke="#222" stroke-width="0.7"/>
<line x1="484.1" y1="168.5" x2="489.3" y2="168.5" stroke="#222" stroke-width="0.7"/>
<line x1="484.1" y1="172.5" x2="489.3" y2="172.5" stroke="#222" stroke-width="0.7"/>
<line x1="498.8" y1="172.5" x2="513.2" y2="172.5" stroke="#333" stroke-width="1"/>
<line x1="506.5" y1="169.8" x2="506.5" y2="175.4" stroke="#222" stroke-width="0.7"/>
<line x1="503.4" y1="169.5" x2="508.6" y2="169.5" stroke="#222" stroke-width="0.7"/>
<line x1="503.4" y1="175.5" x2="508.6" y2="175.5" stroke="#222" stroke-width="0.7"/>
<text transform="translate(411.8 203.5) rotate(-45)" x="0" y="0" dy="0.35em" font-size="5.2" fill="#333" text-anchor="end">W-1</text>
<text transform="translate(431.8 203.5) rotate(-45)" x="0" y="0" dy="0.35em" font-size="5.2" fill="#333" text-anchor="end">day0</text>
<text transform="translate(450.9 203.5) rotate(-45)" x="0" y="0" dy="0.35em" font-size="5.2" fill="#333" text-anchor="end">W1</text>
<text transform="translate(470.1 203.5) rotate(-45)" x="0" y="0" dy="0.35em" font-size="5.2" fill="#333" text-anchor="end">W2</text>
<text transform="translate(489.3 203.5) rotate(-45)" x="0" y="0" dy="0.35em" font-size="5.2" fill="#333" text-anchor="end">W3</text>
<text transform="translate(508.6 203.5) rotate(-45)" x="0" y="0" dy="0.35em" font-size="5.2" fill="#333" text-anchor="end">W4</text>
<line x1="408.6" y1="139.5" x2="486.8" y2="139.5" stroke="#1a1a1a" stroke-width="0.9"/>
<text x="447.5" y="137.38" font-size="5.04" fill="#222" text-anchor="middle" textLength="21.2" lengthAdjust="spacingAndGlyphs">p=0.0492</text>
<line x1="408.6" y1="148.5" x2="506.1" y2="148.5" stroke="#1a1a1a" stroke-width="0.9"/>
<text x="457" y="146.18" font-size="5.04" fill="#222" text-anchor="middle" textLength="21.2" lengthAdjust="spacingAndGlyphs">p=0.0135</text>
<line x1="52.45" y1="248.5" x2="52.45" y2="331" stroke="#1a1a1a" stroke-width="1.25"/>
<line x1="49.25" y1="251.5" x2="52.45" y2="251.5" stroke="#1a1a1a" stroke-width="0.9"/>
<text x="46.55" y="253.31" font-size="5.15" fill="#555" text-anchor="end" textLength="6.53" lengthAdjust="spacingAndGlyphs">2.0</text>
<line x1="49.25" y1="271.5" x2="52.45" y2="271.5" stroke="#1a1a1a" stroke-width="0.9"/>
<text x="46.55" y="273.04" font-size="5.15" fill="#555" text-anchor="end" textLength="6.53" lengthAdjust="spacingAndGlyphs">1.5</text>
<line x1="49.25" y1="291.5" x2="52.45" y2="291.5" stroke="#1a1a1a" stroke-width="0.9"/>
<text x="46.55" y="292.76" font-size="5.15" fill="#555" text-anchor="end" textLength="6.53" lengthAdjust="spacingAndGlyphs">1.0</text>
<line x1="49.25" y1="310.5" x2="52.45" y2="310.5" stroke="#1a1a1a" stroke-width="0.9"/>
<text x="46.55" y="312.49" font-size="5.15" fill="#555" text-anchor="end" textLength="6.53" lengthAdjust="spacingAndGlyphs">0.5</text>
<line x1="49.25" y1="330.5" x2="52.45" y2="330.5" stroke="#1a1a1a" stroke-width="0.9"/>
<text x="46.55" y="332.21" font-size="5.15" fill="#555" text-anchor="end" textLength="6.53" lengthAdjust="spacingAndGlyphs">0.0</text>
<line x1="51.95" y1="330.5" x2="99.4" y2="330.5" stroke="#1a1a1a" stroke-width="1.25"/>
<text transform="translate(31.45 290.15) rotate(-90)" x="0" y="2.83" font-size="8.51" fill="#1a1a1a" text-anchor="middle" textLength="58.3" lengthAdjust="spacingAndGlyphs">%pDCs of huCD45</text>
<circle cx="64" cy="310.3" r="1.45" fill="#fff" stroke="#5a6070" stroke-width="0.7"/>
<circle cx="58.9" cy="317.5" r="1.45" fill="#fff" stroke="#5a6070" stroke-width="0.7"/>
<circle cx="64" cy="317.5" r="1.45" fill="#fff" stroke="#5a6070" stroke-width="0.7"/>
<circle cx="69.1" cy="315.2" r="1.45" fill="#fff" stroke="#5a6070" stroke-width="0.7"/>
<circle cx="57.3" cy="324.3" r="1.45" fill="#fff" stroke="#5a6070" stroke-width="0.7"/>
<circle cx="59.8" cy="324.6" r="1.45" fill="#fff" stroke="#5a6070" stroke-width="0.7"/>
<circle cx="62" cy="324.8" r="1.45" fill="#fff" stroke="#5a6070" stroke-width="0.7"/>
<circle cx="67" cy="324.8" r="1.45" fill="#fff" stroke="#5a6070" stroke-width="0.7"/>
<circle cx="69.2" cy="324.6" r="1.45" fill="#fff" stroke="#5a6070" stroke-width="0.7"/>
<circle cx="71.7" cy="324.3" r="1.45" fill="#fff" stroke="#5a6070" stroke-width="0.7"/>
<circle cx="59.2" cy="326.2" r="1.45" fill="#fff" stroke="#5a6070" stroke-width="0.7"/>
<circle cx="61.6" cy="326.6" r="1.45" fill="#fff" stroke="#5a6070" stroke-width="0.7"/>
<circle cx="64.2" cy="327" r="1.45" fill="#fff" stroke="#5a6070" stroke-width="0.7"/>
<circle cx="66.8" cy="326.6" r="1.45" fill="#fff" stroke="#5a6070" stroke-width="0.7"/>
<circle cx="69.3" cy="326.2" r="1.45" fill="#fff" stroke="#5a6070" stroke-width="0.7"/>
<circle cx="61.3" cy="328" r="1.45" fill="#fff" stroke="#5a6070" stroke-width="0.7"/>
<circle cx="63.7" cy="328.4" r="1.45" fill="#fff" stroke="#5a6070" stroke-width="0.7"/>
<circle cx="66.2" cy="328.4" r="1.45" fill="#fff" stroke="#5a6070" stroke-width="0.7"/>
<circle cx="68" cy="328" r="1.45" fill="#fff" stroke="#5a6070" stroke-width="0.7"/>
<circle cx="63.2" cy="329.5" r="1.45" fill="#fff" stroke="#5a6070" stroke-width="0.7"/>
<circle cx="65.6" cy="329.5" r="1.45" fill="#fff" stroke="#5a6070" stroke-width="0.7"/>
<rect x="86.3" y="266.4" width="3" height="3" fill="#fff" stroke="#a8323f" stroke-width="0.95"/>
<rect x="86.3" y="271.7" width="3" height="3" fill="#fff" stroke="#a8323f" stroke-width="0.95"/>
<rect x="88.5" y="287.1" width="3" height="3" fill="#fff" stroke="#a8323f" stroke-width="0.95"/>
<rect x="83.8" y="289.7" width="3" height="3" fill="#fff" stroke="#a8323f" stroke-width="0.95"/>
<rect x="80" y="300.2" width="3" height="3" fill="#fff" stroke="#a8323f" stroke-width="0.95"/>
<rect x="84.2" y="300.3" width="3" height="3" fill="#fff" stroke="#a8323f" stroke-width="0.95"/>
<rect x="87.9" y="300.8" width="3" height="3" fill="#fff" stroke="#a8323f" stroke-width="0.95"/>
<rect x="91.6" y="300.2" width="3" height="3" fill="#fff" stroke="#a8323f" stroke-width="0.95"/>
<rect x="88.4" y="305" width="3" height="3" fill="#fff" stroke="#a8323f" stroke-width="0.95"/>
<rect x="82.4" y="307.7" width="3" height="3" fill="#fff" stroke="#a8323f" stroke-width="0.95"/>
<rect x="85.1" y="310" width="3" height="3" fill="#fff" stroke="#a8323f" stroke-width="0.95"/>
<rect x="87.4" y="309.1" width="3" height="3" fill="#fff" stroke="#a8323f" stroke-width="0.95"/>
<rect x="90.2" y="307.7" width="3" height="3" fill="#fff" stroke="#a8323f" stroke-width="0.95"/>
<rect x="79.6" y="313.3" width="3" height="3" fill="#fff" stroke="#a8323f" stroke-width="0.95"/>
<rect x="93.4" y="312.4" width="3" height="3" fill="#fff" stroke="#a8323f" stroke-width="0.95"/>
<rect x="81.9" y="316.5" width="3" height="3" fill="#fff" stroke="#a8323f" stroke-width="0.95"/>
<rect x="86" y="315.1" width="3" height="3" fill="#fff" stroke="#a8323f" stroke-width="0.95"/>
<rect x="90.7" y="316.5" width="3" height="3" fill="#fff" stroke="#a8323f" stroke-width="0.95"/>
<rect x="86" y="320.7" width="3" height="3" fill="#fff" stroke="#a8323f" stroke-width="0.95"/>
<line x1="56.7" y1="323.5" x2="73" y2="323.5" stroke="#333" stroke-width="1"/>
<line x1="79.2" y1="304.5" x2="95.9" y2="304.5" stroke="#333" stroke-width="1"/>
<text x="76.2" y="259.57" font-size="4.73" fill="#555" text-anchor="middle" textLength="21.1" lengthAdjust="spacingAndGlyphs">p&lt;0.0001</text>
<line x1="64.5" y1="262" x2="87.8" y2="262" stroke="#333" stroke-width="1.25"/>
<text x="64.1" y="339.59" font-size="5.67" fill="#333" text-anchor="middle" textLength="8.6" lengthAdjust="spacingAndGlyphs">PBS</text>
<text x="87.8" y="339.59" font-size="5.67" fill="#333" text-anchor="middle" textLength="12.8" lengthAdjust="spacingAndGlyphs">FLT3L</text>
<line x1="138.75" y1="248.5" x2="138.75" y2="331" stroke="#1a1a1a" stroke-width="1.25"/>
<line x1="135.55" y1="251.5" x2="138.75" y2="251.5" stroke="#1a1a1a" stroke-width="0.9"/>
<text x="132.85" y="253.31" font-size="5.15" fill="#555" text-anchor="end" textLength="2.61" lengthAdjust="spacingAndGlyphs">5</text>
<line x1="135.55" y1="267.5" x2="138.75" y2="267.5" stroke="#1a1a1a" stroke-width="0.9"/>
<text x="132.85" y="269.09" font-size="5.15" fill="#555" text-anchor="end" textLength="2.61" lengthAdjust="spacingAndGlyphs">4</text>
<line x1="135.55" y1="283.5" x2="138.75" y2="283.5" stroke="#1a1a1a" stroke-width="0.9"/>
<text x="132.85" y="284.87" font-size="5.15" fill="#555" text-anchor="end" textLength="2.61" lengthAdjust="spacingAndGlyphs">3</text>
<line x1="135.55" y1="298.5" x2="138.75" y2="298.5" stroke="#1a1a1a" stroke-width="0.9"/>
<text x="132.85" y="300.65" font-size="5.15" fill="#555" text-anchor="end" textLength="2.61" lengthAdjust="spacingAndGlyphs">2</text>
<line x1="135.55" y1="314.5" x2="138.75" y2="314.5" stroke="#1a1a1a" stroke-width="0.9"/>
<text x="132.85" y="316.44" font-size="5.15" fill="#555" text-anchor="end" textLength="2.61" lengthAdjust="spacingAndGlyphs">1</text>
<line x1="135.55" y1="330.5" x2="138.75" y2="330.5" stroke="#1a1a1a" stroke-width="0.9"/>
<text x="132.85" y="332.21" font-size="5.15" fill="#555" text-anchor="end" textLength="2.61" lengthAdjust="spacingAndGlyphs">0</text>
<line x1="138.25" y1="330.5" x2="185.7" y2="330.5" stroke="#1a1a1a" stroke-width="1.25"/>
<text transform="translate(122.56 289.2) rotate(-90)" x="0" y="2.83" font-size="8.51" fill="#1a1a1a" text-anchor="middle" textLength="41.2" lengthAdjust="spacingAndGlyphs">Fold increase</text>
<rect x="143" y="319.3" width="15.6" height="11.2" fill="#636773" stroke="#4c505a" stroke-width="0.6"/>
<rect x="166.2" y="275.3" width="15.8" height="55.2" fill="#9c3341" stroke="#86202f" stroke-width="0.6"/>
<text x="162.4" y="262.77" font-size="4.73" fill="#555" text-anchor="middle" textLength="21.1" lengthAdjust="spacingAndGlyphs">p&lt;0.0001</text>
<line x1="150.8" y1="265" x2="174.5" y2="265" stroke="#333" stroke-width="1.25"/>
<text x="150.8" y="339.59" font-size="5.67" fill="#333" text-anchor="middle" textLength="8.6" lengthAdjust="spacingAndGlyphs">PBS</text>
<text x="174.2" y="339.59" font-size="5.67" fill="#333" text-anchor="middle" textLength="12.8" lengthAdjust="spacingAndGlyphs">FLT3L</text>
<line x1="237.6" y1="248.5" x2="237.6" y2="331" stroke="#1a1a1a" stroke-width="1.25"/>
<line x1="234.4" y1="251.5" x2="237.6" y2="251.5" stroke="#1a1a1a" stroke-width="0.9"/>
<text x="231.7" y="253.31" font-size="5.15" fill="#555" text-anchor="end" textLength="15.68" lengthAdjust="spacingAndGlyphs">150000</text>
<line x1="234.4" y1="277.5" x2="237.6" y2="277.5" stroke="#1a1a1a" stroke-width="0.9"/>
<text x="231.7" y="279.61" font-size="5.15" fill="#555" text-anchor="end" textLength="15.68" lengthAdjust="spacingAndGlyphs">100000</text>
<line x1="234.4" y1="304.5" x2="237.6" y2="304.5" stroke="#1a1a1a" stroke-width="0.9"/>
<text x="231.7" y="305.91" font-size="5.15" fill="#555" text-anchor="end" textLength="13.07" lengthAdjust="spacingAndGlyphs">50000</text>
<line x1="234.4" y1="330.5" x2="237.6" y2="330.5" stroke="#1a1a1a" stroke-width="0.9"/>
<text x="231.7" y="332.21" font-size="5.15" fill="#555" text-anchor="end" textLength="2.61" lengthAdjust="spacingAndGlyphs">0</text>
<line x1="237.1" y1="330.5" x2="284.7" y2="330.5" stroke="#1a1a1a" stroke-width="1.25"/>
<text transform="translate(205.56 289.7) rotate(-90)" x="0" y="2.83" font-size="8.51" fill="#1a1a1a" text-anchor="middle" textLength="76.2" lengthAdjust="spacingAndGlyphs">Total pDCs per ml blood</text>
<circle cx="246.8" cy="313.3" r="1.45" fill="#fff" stroke="#5a6070" stroke-width="0.7"/>
<circle cx="251.9" cy="316.5" r="1.45" fill="#fff" stroke="#5a6070" stroke-width="0.7"/>
<circle cx="243.8" cy="325.3" r="1.45" fill="#fff" stroke="#5a6070" stroke-width="0.7"/>
<circle cx="243.5" cy="328.3" r="1.45" fill="#fff" stroke="#5a6070" stroke-width="0.7"/>
<circle cx="246.5" cy="328.3" r="1.45" fill="#fff" stroke="#5a6070" stroke-width="0.7"/>
<circle cx="249.5" cy="328.3" r="1.45" fill="#fff" stroke="#5a6070" stroke-width="0.7"/>
<circle cx="252.5" cy="328.3" r="1.45" fill="#fff" stroke="#5a6070" stroke-width="0.7"/>
<circle cx="255.5" cy="328.3" r="1.45" fill="#fff" stroke="#5a6070" stroke-width="0.7"/>
<circle cx="246" cy="329.6" r="1.45" fill="#fff" stroke="#5a6070" stroke-width="0.7"/>
<circle cx="249.3" cy="329.6" r="1.45" fill="#fff" stroke="#5a6070" stroke-width="0.7"/>
<circle cx="252.6" cy="329.6" r="1.45" fill="#fff" stroke="#5a6070" stroke-width="0.7"/>
<rect x="271.2" y="271.2" width="3" height="3" fill="#fff" stroke="#a8323f" stroke-width="0.95"/>
<rect x="271.2" y="279.5" width="3" height="3" fill="#fff" stroke="#a8323f" stroke-width="0.95"/>
<rect x="269" y="294.8" width="3" height="3" fill="#fff" stroke="#a8323f" stroke-width="0.95"/>
<rect x="274" y="297.5" width="3" height="3" fill="#fff" stroke="#a8323f" stroke-width="0.95"/>
<rect x="271.2" y="306.5" width="3" height="3" fill="#fff" stroke="#a8323f" stroke-width="0.95"/>
<rect x="271.3" y="323.8" width="3" height="3" fill="#fff" stroke="#a8323f" stroke-width="0.95"/>
<rect x="266.7" y="327.8" width="3" height="3" fill="#fff" stroke="#a8323f" stroke-width="0.95"/>
<rect x="269.1" y="326.1" width="3" height="3" fill="#fff" stroke="#a8323f" stroke-width="0.95"/>
<rect x="273.5" y="326.1" width="3" height="3" fill="#fff" stroke="#a8323f" stroke-width="0.95"/>
<rect x="275.9" y="327.8" width="3" height="3" fill="#fff" stroke="#a8323f" stroke-width="0.95"/>
<rect x="271.3" y="328.5" width="3" height="3" fill="#fff" stroke="#a8323f" stroke-width="0.95"/>
<rect x="268.5" y="328.9" width="3" height="3" fill="#fff" stroke="#a8323f" stroke-width="0.95"/>
<rect x="274.1" y="328.9" width="3" height="3" fill="#fff" stroke="#a8323f" stroke-width="0.95"/>
<line x1="241.8" y1="326.5" x2="257.8" y2="326.5" stroke="#333" stroke-width="1"/>
<line x1="264.6" y1="313.5" x2="281.5" y2="313.5" stroke="#333" stroke-width="1"/>
<text x="249.6" y="339.59" font-size="5.67" fill="#333" text-anchor="middle" textLength="8.6" lengthAdjust="spacingAndGlyphs">PBS</text>
<text x="273" y="339.59" font-size="5.67" fill="#333" text-anchor="middle" textLength="12.8" lengthAdjust="spacingAndGlyphs">FLT3L</text>
<line x1="328.5" y1="248.5" x2="328.5" y2="331" stroke="#1a1a1a" stroke-width="1.25"/>
<line x1="325.3" y1="251.5" x2="328.5" y2="251.5" stroke="#1a1a1a" stroke-width="0.9"/>
<text x="322.6" y="253.31" font-size="5.15" fill="#555" text-anchor="end" textLength="6.53" lengthAdjust="spacingAndGlyphs">2.0</text>
<line x1="325.3" y1="271.5" x2="328.5" y2="271.5" stroke="#1a1a1a" stroke-width="0.9"/>
<text x="322.6" y="273.04" font-size="5.15" fill="#555" text-anchor="end" textLength="6.53" lengthAdjust="spacingAndGlyphs">1.5</text>
<line x1="325.3" y1="291.5" x2="328.5" y2="291.5" stroke="#1a1a1a" stroke-width="0.9"/>
<text x="322.6" y="292.76" font-size="5.15" fill="#555" text-anchor="end" textLength="6.53" lengthAdjust="spacingAndGlyphs">1.0</text>
<line x1="325.3" y1="310.5" x2="328.5" y2="310.5" stroke="#1a1a1a" stroke-width="0.9"/>
<text x="322.6" y="312.49" font-size="5.15" fill="#555" text-anchor="end" textLength="6.53" lengthAdjust="spacingAndGlyphs">0.5</text>
<line x1="325.3" y1="330.5" x2="328.5" y2="330.5" stroke="#1a1a1a" stroke-width="0.9"/>
<text x="322.6" y="332.21" font-size="5.15" fill="#555" text-anchor="end" textLength="6.53" lengthAdjust="spacingAndGlyphs">0.0</text>
<line x1="328" y1="330.5" x2="375.2" y2="330.5" stroke="#1a1a1a" stroke-width="1.25"/>
<text transform="translate(307.25 289.15) rotate(-90)" x="0" y="2.83" font-size="8.51" fill="#1a1a1a" text-anchor="middle" textLength="87.7" lengthAdjust="spacingAndGlyphs">Total pDCs per spleen (x10<tspan dy="-2.2" font-size="4.6">6</tspan><tspan dy="2.2">)</tspan></text>
<circle cx="340" cy="310.4" r="1.45" fill="#fff" stroke="#5a6070" stroke-width="0.7"/>
<circle cx="340" cy="324.5" r="1.45" fill="#fff" stroke="#5a6070" stroke-width="0.7"/>
<circle cx="333.8" cy="327.1" r="1.45" fill="#fff" stroke="#5a6070" stroke-width="0.7"/>
<circle cx="335.5" cy="328.8" r="1.45" fill="#fff" stroke="#5a6070" stroke-width="0.7"/>
<circle cx="338.5" cy="328.8" r="1.45" fill="#fff" stroke="#5a6070" stroke-width="0.7"/>
<circle cx="341.5" cy="328.8" r="1.45" fill="#fff" stroke="#5a6070" stroke-width="0.7"/>
<circle cx="344.5" cy="328.8" r="1.45" fill="#fff" stroke="#5a6070" stroke-width="0.7"/>
<circle cx="347" cy="328.8" r="1.45" fill="#fff" stroke="#5a6070" stroke-width="0.7"/>
<circle cx="338" cy="330" r="1.45" fill="#fff" stroke="#5a6070" stroke-width="0.7"/>
<circle cx="341" cy="330" r="1.45" fill="#fff" stroke="#5a6070" stroke-width="0.7"/>
<circle cx="344" cy="330" r="1.45" fill="#fff" stroke="#5a6070" stroke-width="0.7"/>
<rect x="362.1" y="260.1" width="3" height="3" fill="#fff" stroke="#a8323f" stroke-width="0.95"/>
<rect x="362.1" y="278.1" width="3" height="3" fill="#fff" stroke="#a8323f" stroke-width="0.95"/>
<rect x="362.1" y="283.3" width="3" height="3" fill="#fff" stroke="#a8323f" stroke-width="0.95"/>
<rect x="359.5" y="297.1" width="3" height="3" fill="#fff" stroke="#a8323f" stroke-width="0.95"/>
<rect x="364.5" y="299.3" width="3" height="3" fill="#fff" stroke="#a8323f" stroke-width="0.95"/>
<rect x="362.1" y="305.2" width="3" height="3" fill="#fff" stroke="#a8323f" stroke-width="0.95"/>
<rect x="359.5" y="318" width="3" height="3" fill="#fff" stroke="#a8323f" stroke-width="0.95"/>
<rect x="364.5" y="322.1" width="3" height="3" fill="#fff" stroke="#a8323f" stroke-width="0.95"/>
<rect x="356.5" y="324.5" width="3" height="3" fill="#fff" stroke="#a8323f" stroke-width="0.95"/>
<rect x="367.8" y="325.4" width="3" height="3" fill="#fff" stroke="#a8323f" stroke-width="0.95"/>
<rect x="359.7" y="327.3" width="3" height="3" fill="#fff" stroke="#a8323f" stroke-width="0.95"/>
<rect x="362.5" y="328.8" width="3" height="3" fill="#fff" stroke="#a8323f" stroke-width="0.95"/>
<rect x="365.5" y="328.3" width="3" height="3" fill="#fff" stroke="#a8323f" stroke-width="0.95"/>
<line x1="333.3" y1="326.5" x2="348.1" y2="326.5" stroke="#333" stroke-width="1"/>
<line x1="355.7" y1="308.5" x2="372" y2="308.5" stroke="#333" stroke-width="1"/>
<text x="352.2" y="254.67" font-size="4.73" fill="#555" text-anchor="middle" textLength="21" lengthAdjust="spacingAndGlyphs">p=0.0208</text>
<line x1="341" y1="257" x2="364" y2="257" stroke="#333" stroke-width="1.25"/>
<text x="340.3" y="339.59" font-size="5.67" fill="#333" text-anchor="middle" textLength="8.6" lengthAdjust="spacingAndGlyphs">PBS</text>
<text x="363.6" y="339.59" font-size="5.67" fill="#333" text-anchor="middle" textLength="12.8" lengthAdjust="spacingAndGlyphs">FLT3L</text>
<line x1="52.45" y1="348.4" x2="52.45" y2="430" stroke="#1a1a1a" stroke-width="1.25"/>
<line x1="49.25" y1="351.5" x2="52.45" y2="351.5" stroke="#1a1a1a" stroke-width="0.9"/>
<text x="46.55" y="353.11" font-size="5.15" fill="#555" text-anchor="end" textLength="5.23" lengthAdjust="spacingAndGlyphs">15</text>
<line x1="49.25" y1="377.5" x2="52.45" y2="377.5" stroke="#1a1a1a" stroke-width="0.9"/>
<text x="46.55" y="379.15" font-size="5.15" fill="#555" text-anchor="end" textLength="5.23" lengthAdjust="spacingAndGlyphs">10</text>
<line x1="49.25" y1="403.5" x2="52.45" y2="403.5" stroke="#1a1a1a" stroke-width="0.9"/>
<text x="46.55" y="405.18" font-size="5.15" fill="#555" text-anchor="end" textLength="2.61" lengthAdjust="spacingAndGlyphs">5</text>
<line x1="49.25" y1="429.5" x2="52.45" y2="429.5" stroke="#1a1a1a" stroke-width="0.9"/>
<text x="46.55" y="431.21" font-size="5.15" fill="#555" text-anchor="end" textLength="2.61" lengthAdjust="spacingAndGlyphs">0</text>
<line x1="51.95" y1="429.5" x2="99.4" y2="429.5" stroke="#1a1a1a" stroke-width="1.25"/>
<text transform="translate(31.45 388.6) rotate(-90)" x="0" y="2.83" font-size="8.51" fill="#1a1a1a" text-anchor="middle" textLength="57.2" lengthAdjust="spacingAndGlyphs">%cDCs of huCD45</text>
<circle cx="57.8" cy="427" r="1.45" fill="#7a7f8c" stroke="#5a6070" stroke-width="0.7"/>
<circle cx="59.2" cy="426.6" r="1.45" fill="#7a7f8c" stroke="#5a6070" stroke-width="0.7"/>
<circle cx="61.5" cy="427.6" r="1.45" fill="#7a7f8c" stroke="#5a6070" stroke-width="0.7"/>
<circle cx="64" cy="428.3" r="1.45" fill="#7a7f8c" stroke="#5a6070" stroke-width="0.7"/>
<circle cx="66.5" cy="427.8" r="1.45" fill="#7a7f8c" stroke="#5a6070" stroke-width="0.7"/>
<circle cx="68.8" cy="427" r="1.45" fill="#7a7f8c" stroke="#5a6070" stroke-width="0.7"/>
<circle cx="70.8" cy="427.3" r="1.45" fill="#7a7f8c" stroke="#5a6070" stroke-width="0.7"/>
<circle cx="60" cy="429" r="1.45" fill="#7a7f8c" stroke="#5a6070" stroke-width="0.7"/>
<circle cx="62.5" cy="429.5" r="1.45" fill="#7a7f8c" stroke="#5a6070" stroke-width="0.7"/>
<circle cx="65" cy="429.8" r="1.45" fill="#7a7f8c" stroke="#5a6070" stroke-width="0.7"/>
<circle cx="67.5" cy="429.4" r="1.45" fill="#7a7f8c" stroke="#5a6070" stroke-width="0.7"/>
<circle cx="70" cy="428.8" r="1.45" fill="#7a7f8c" stroke="#5a6070" stroke-width="0.7"/>
<rect x="85.7" y="362.8" width="3" height="3" fill="#fff" stroke="#a8323f" stroke-width="0.95"/>
<rect x="83.5" y="388.3" width="3" height="3" fill="#fff" stroke="#a8323f" stroke-width="0.95"/>
<rect x="88.5" y="387" width="3" height="3" fill="#fff" stroke="#a8323f" stroke-width="0.95"/>
<rect x="85.9" y="397.5" width="3" height="3" fill="#fff" stroke="#a8323f" stroke-width="0.95"/>
<rect x="81.5" y="402.2" width="3" height="3" fill="#fff" stroke="#a8323f" stroke-width="0.95"/>
<rect x="90.8" y="403.3" width="3" height="3" fill="#fff" stroke="#a8323f" stroke-width="0.95"/>
<rect x="85.5" y="407" width="3" height="3" fill="#fff" stroke="#a8323f" stroke-width="0.95"/>
<rect x="80" y="411.5" width="3" height="3" fill="#fff" stroke="#a8323f" stroke-width="0.95"/>
<rect x="92.3" y="413.5" width="3" height="3" fill="#fff" stroke="#a8323f" stroke-width="0.95"/>
<rect x="81.5" y="416.5" width="3" height="3" fill="#fff" stroke="#a8323f" stroke-width="0.95"/>
<rect x="84.5" y="415.5" width="3" height="3" fill="#fff" stroke="#a8323f" stroke-width="0.95"/>
<rect x="88.1" y="415.1" width="3" height="3" fill="#fff" stroke="#a8323f" stroke-width="0.95"/>
<rect x="91" y="417.5" width="3" height="3" fill="#fff" stroke="#a8323f" stroke-width="0.95"/>
<rect x="82.5" y="420" width="3" height="3" fill="#fff" stroke="#a8323f" stroke-width="0.95"/>
<rect x="86.5" y="420.5" width="3" height="3" fill="#fff" stroke="#a8323f" stroke-width="0.95"/>
<rect x="90" y="420.2" width="3" height="3" fill="#fff" stroke="#a8323f" stroke-width="0.95"/>
<rect x="85.5" y="423" width="3" height="3" fill="#fff" stroke="#a8323f" stroke-width="0.95"/>
<line x1="56.7" y1="426.5" x2="73" y2="426.5" stroke="#333" stroke-width="1"/>
<line x1="80" y1="410.5" x2="96" y2="410.5" stroke="#333" stroke-width="1"/>
<text x="76.4" y="357.47" font-size="4.73" fill="#555" text-anchor="middle" textLength="21.1" lengthAdjust="spacingAndGlyphs">p&lt;0.0001</text>
<line x1="64.5" y1="360" x2="87.8" y2="360" stroke="#333" stroke-width="1.25"/>
<text x="64.1" y="438.19" font-size="5.67" fill="#333" text-anchor="middle" textLength="8.6" lengthAdjust="spacingAndGlyphs">PBS</text>
<text x="87.8" y="438.19" font-size="5.67" fill="#333" text-anchor="middle" textLength="12.8" lengthAdjust="spacingAndGlyphs">FLT3L</text>
<line x1="138.75" y1="347.4" x2="138.75" y2="429.9" stroke="#1a1a1a" stroke-width="1.25"/>
<line x1="135.55" y1="350.5" x2="138.75" y2="350.5" stroke="#1a1a1a" stroke-width="0.9"/>
<text x="132.85" y="352.11" font-size="5.15" fill="#555" text-anchor="end" textLength="5.23" lengthAdjust="spacingAndGlyphs">15</text>
<line x1="135.55" y1="376.5" x2="138.75" y2="376.5" stroke="#1a1a1a" stroke-width="0.9"/>
<text x="132.85" y="378.45" font-size="5.15" fill="#555" text-anchor="end" textLength="5.23" lengthAdjust="spacingAndGlyphs">10</text>
<line x1="135.55" y1="403.5" x2="138.75" y2="403.5" stroke="#1a1a1a" stroke-width="0.9"/>
<text x="132.85" y="404.78" font-size="5.15" fill="#555" text-anchor="end" textLength="2.61" lengthAdjust="spacingAndGlyphs">5</text>
<line x1="135.55" y1="429.5" x2="138.75" y2="429.5" stroke="#1a1a1a" stroke-width="0.9"/>
<text x="132.85" y="431.11" font-size="5.15" fill="#555" text-anchor="end" textLength="2.61" lengthAdjust="spacingAndGlyphs">0</text>
<line x1="138.25" y1="429.4" x2="185.7" y2="429.4" stroke="#1a1a1a" stroke-width="1.25"/>
<text transform="translate(119.86 388.15) rotate(-90)" x="0" y="2.83" font-size="8.51" fill="#1a1a1a" text-anchor="middle" textLength="41.3" lengthAdjust="spacingAndGlyphs">Fold increase</text>
<rect x="143" y="426.7" width="15.6" height="2.7" fill="#636773" stroke="#4c505a" stroke-width="0.6"/>
<line x1="150.5" y1="425.2" x2="150.5" y2="427.2" stroke="#222" stroke-width="0.8"/>
<line x1="147.8" y1="425.5" x2="153.8" y2="425.5" stroke="#222" stroke-width="0.8"/>
<line x1="147.8" y1="427.5" x2="153.8" y2="427.5" stroke="#222" stroke-width="0.8"/>
<rect x="166.2" y="379.1" width="15.8" height="50.3" fill="#9c3341" stroke="#86202f" stroke-width="0.6"/>
<line x1="174.5" y1="372.8" x2="174.5" y2="383.8" stroke="#222" stroke-width="0.9"/>
<line x1="169.8" y1="372.5" x2="178.6" y2="372.5" stroke="#222" stroke-width="0.9"/>
<line x1="169.8" y1="383.5" x2="178.6" y2="383.5" stroke="#222" stroke-width="0.9"/>
<text x="163.4" y="355.38" font-size="4.73" fill="#555" text-anchor="middle" textLength="21.1" lengthAdjust="spacingAndGlyphs">p&lt;0.0001</text>
<line x1="151.8" y1="357.3" x2="175.5" y2="357.3" stroke="#333" stroke-width="1.25"/>
<text x="150.8" y="438.19" font-size="5.67" fill="#333" text-anchor="middle" textLength="8.6" lengthAdjust="spacingAndGlyphs">PBS</text>
<text x="174.2" y="438.19" font-size="5.67" fill="#333" text-anchor="middle" textLength="12.8" lengthAdjust="spacingAndGlyphs">FLT3L</text>
<line x1="237.6" y1="347.4" x2="237.6" y2="429.9" stroke="#1a1a1a" stroke-width="1.25"/>
<line x1="234.4" y1="350.5" x2="237.6" y2="350.5" stroke="#1a1a1a" stroke-width="0.9"/>
<text x="231.7" y="352.11" font-size="5.15" fill="#555" text-anchor="end" textLength="15.68" lengthAdjust="spacingAndGlyphs">400000</text>
<line x1="234.4" y1="370.5" x2="237.6" y2="370.5" stroke="#1a1a1a" stroke-width="0.9"/>
<text x="231.7" y="371.86" font-size="5.15" fill="#555" text-anchor="end" textLength="15.68" lengthAdjust="spacingAndGlyphs">300000</text>
<line x1="234.4" y1="389.5" x2="237.6" y2="389.5" stroke="#1a1a1a" stroke-width="0.9"/>
<text x="231.7" y="391.61" font-size="5.15" fill="#555" text-anchor="end" textLength="15.68" lengthAdjust="spacingAndGlyphs">200000</text>
<line x1="234.4" y1="409.5" x2="237.6" y2="409.5" stroke="#1a1a1a" stroke-width="0.9"/>
<text x="231.7" y="411.36" font-size="5.15" fill="#555" text-anchor="end" textLength="15.68" lengthAdjust="spacingAndGlyphs">100000</text>
<line x1="234.4" y1="429.5" x2="237.6" y2="429.5" stroke="#1a1a1a" stroke-width="0.9"/>
<text x="231.7" y="431.11" font-size="5.15" fill="#555" text-anchor="end" textLength="2.61" lengthAdjust="spacingAndGlyphs">0</text>
<line x1="237.1" y1="429.4" x2="284.7" y2="429.4" stroke="#1a1a1a" stroke-width="1.25"/>
<text transform="translate(205.56 388.15) rotate(-90)" x="0" y="2.83" font-size="8.51" fill="#1a1a1a" text-anchor="middle" textLength="75.1" lengthAdjust="spacingAndGlyphs">Total cDCs per ml blood</text>
<circle cx="249.3" cy="421.6" r="1.45" fill="#fff" stroke="#5a6070" stroke-width="0.7"/>
<circle cx="247.5" cy="423.6" r="1.45" fill="#fff" stroke="#5a6070" stroke-width="0.7"/>
<circle cx="251.1" cy="423.6" r="1.45" fill="#fff" stroke="#5a6070" stroke-width="0.7"/>
<circle cx="245.5" cy="425.3" r="1.45" fill="#fff" stroke="#5a6070" stroke-width="0.7"/>
<circle cx="249.3" cy="425.3" r="1.45" fill="#fff" stroke="#5a6070" stroke-width="0.7"/>
<circle cx="253.1" cy="425.3" r="1.45" fill="#fff" stroke="#5a6070" stroke-width="0.7"/>
<circle cx="243.5" cy="427.6" r="1.45" fill="#fff" stroke="#5a6070" stroke-width="0.7"/>
<circle cx="246.5" cy="427.6" r="1.45" fill="#fff" stroke="#5a6070" stroke-width="0.7"/>
<circle cx="249.5" cy="427.6" r="1.45" fill="#fff" stroke="#5a6070" stroke-width="0.7"/>
<circle cx="252.5" cy="427.6" r="1.45" fill="#fff" stroke="#5a6070" stroke-width="0.7"/>
<circle cx="255.5" cy="427.6" r="1.45" fill="#fff" stroke="#5a6070" stroke-width="0.7"/>
<circle cx="246" cy="429" r="1.45" fill="#fff" stroke="#5a6070" stroke-width="0.7"/>
<circle cx="249.3" cy="429" r="1.45" fill="#fff" stroke="#5a6070" stroke-width="0.7"/>
<circle cx="252.6" cy="429" r="1.45" fill="#fff" stroke="#5a6070" stroke-width="0.7"/>
<rect x="271.6" y="354.9" width="3" height="3" fill="#fff" stroke="#a8323f" stroke-width="0.95"/>
<rect x="266.7" y="394.9" width="3" height="3" fill="#fff" stroke="#a8323f" stroke-width="0.95"/>
<rect x="271" y="393.7" width="3" height="3" fill="#fff" stroke="#a8323f" stroke-width="0.95"/>
<rect x="276" y="397.1" width="3" height="3" fill="#fff" stroke="#a8323f" stroke-width="0.95"/>
<rect x="271.2" y="400.5" width="3" height="3" fill="#fff" stroke="#a8323f" stroke-width="0.95"/>
<rect x="268.5" y="408.1" width="3" height="3" fill="#fff" stroke="#a8323f" stroke-width="0.95"/>
<rect x="274" y="408.1" width="3" height="3" fill="#fff" stroke="#a8323f" stroke-width="0.95"/>
<rect x="267" y="417.1" width="3" height="3" fill="#fff" stroke="#a8323f" stroke-width="0.95"/>
<rect x="269.2" y="417.9" width="3" height="3" fill="#fff" stroke="#a8323f" stroke-width="0.95"/>
<rect x="274.3" y="417.1" width="3" height="3" fill="#fff" stroke="#a8323f" stroke-width="0.95"/>
<rect x="271.6" y="421.8" width="3" height="3" fill="#fff" stroke="#a8323f" stroke-width="0.95"/>
<rect x="270.8" y="427.5" width="3" height="3" fill="#fff" stroke="#a8323f" stroke-width="0.95"/>
<line x1="241.8" y1="426.5" x2="257.8" y2="426.5" stroke="#333" stroke-width="1"/>
<line x1="264.6" y1="406.5" x2="281.1" y2="406.5" stroke="#333" stroke-width="1"/>
<text x="261.5" y="349.57" font-size="4.73" fill="#555" text-anchor="middle" textLength="21" lengthAdjust="spacingAndGlyphs">p=0.0009</text>
<line x1="250.2" y1="351" x2="273.1" y2="351" stroke="#333" stroke-width="1.25"/>
<text x="249.6" y="438.19" font-size="5.67" fill="#333" text-anchor="middle" textLength="8.6" lengthAdjust="spacingAndGlyphs">PBS</text>
<text x="273" y="438.19" font-size="5.67" fill="#333" text-anchor="middle" textLength="12.8" lengthAdjust="spacingAndGlyphs">FLT3L</text>
<line x1="328.5" y1="347.4" x2="328.5" y2="429.9" stroke="#1a1a1a" stroke-width="1.25"/>
<line x1="325.3" y1="350.5" x2="328.5" y2="350.5" stroke="#1a1a1a" stroke-width="0.9"/>
<text x="322.6" y="352.11" font-size="5.15" fill="#555" text-anchor="end" textLength="2.61" lengthAdjust="spacingAndGlyphs">4</text>
<line x1="325.3" y1="370.5" x2="328.5" y2="370.5" stroke="#1a1a1a" stroke-width="0.9"/>
<text x="322.6" y="371.86" font-size="5.15" fill="#555" text-anchor="end" textLength="2.61" lengthAdjust="spacingAndGlyphs">3</text>
<line x1="325.3" y1="389.5" x2="328.5" y2="389.5" stroke="#1a1a1a" stroke-width="0.9"/>
<text x="322.6" y="391.61" font-size="5.15" fill="#555" text-anchor="end" textLength="2.61" lengthAdjust="spacingAndGlyphs">2</text>
<line x1="325.3" y1="409.5" x2="328.5" y2="409.5" stroke="#1a1a1a" stroke-width="0.9"/>
<text x="322.6" y="411.36" font-size="5.15" fill="#555" text-anchor="end" textLength="2.61" lengthAdjust="spacingAndGlyphs">1</text>
<line x1="325.3" y1="429.5" x2="328.5" y2="429.5" stroke="#1a1a1a" stroke-width="0.9"/>
<text x="322.6" y="431.11" font-size="5.15" fill="#555" text-anchor="end" textLength="2.61" lengthAdjust="spacingAndGlyphs">0</text>
<line x1="328" y1="429.4" x2="375.2" y2="429.4" stroke="#1a1a1a" stroke-width="1.25"/>
<text transform="translate(307.56 387.8) rotate(-90)" x="0" y="2.83" font-size="8.51" fill="#1a1a1a" text-anchor="middle" textLength="87.2" lengthAdjust="spacingAndGlyphs">Total cDCs per spleen (x10<tspan dy="-2.2" font-size="4.6">6</tspan><tspan dy="2.2">)</tspan></text>
<circle cx="334.8" cy="425.2" r="1.45" fill="#fff" stroke="#5a6070" stroke-width="0.7"/>
<circle cx="345.5" cy="426.8" r="1.45" fill="#fff" stroke="#5a6070" stroke-width="0.7"/>
<circle cx="336" cy="428.5" r="1.45" fill="#fff" stroke="#5a6070" stroke-width="0.7"/>
<circle cx="339" cy="428.5" r="1.45" fill="#fff" stroke="#5a6070" stroke-width="0.7"/>
<circle cx="342" cy="428.5" r="1.45" fill="#fff" stroke="#5a6070" stroke-width="0.7"/>
<circle cx="345" cy="428.5" r="1.45" fill="#fff" stroke="#5a6070" stroke-width="0.7"/>
<circle cx="338" cy="429.6" r="1.45" fill="#fff" stroke="#5a6070" stroke-width="0.7"/>
<circle cx="341" cy="429.6" r="1.45" fill="#fff" stroke="#5a6070" stroke-width="0.7"/>
<circle cx="344" cy="429.6" r="1.45" fill="#fff" stroke="#5a6070" stroke-width="0.7"/>
<rect x="359.5" y="357.5" width="3" height="3" fill="#fff" stroke="#a8323f" stroke-width="0.95"/>
<rect x="364.5" y="358.5" width="3" height="3" fill="#fff" stroke="#a8323f" stroke-width="0.95"/>
<rect x="361.8" y="375.7" width="3" height="3" fill="#fff" stroke="#a8323f" stroke-width="0.95"/>
<rect x="359.5" y="389.1" width="3" height="3" fill="#fff" stroke="#a8323f" stroke-width="0.95"/>
<rect x="364.2" y="390.3" width="3" height="3" fill="#fff" stroke="#a8323f" stroke-width="0.95"/>
<rect x="364.2" y="406.5" width="3" height="3" fill="#fff" stroke="#a8323f" stroke-width="0.95"/>
<rect x="359.5" y="409.2" width="3" height="3" fill="#fff" stroke="#a8323f" stroke-width="0.95"/>
<rect x="359.5" y="415.1" width="3" height="3" fill="#fff" stroke="#a8323f" stroke-width="0.95"/>
<rect x="364.2" y="419.5" width="3" height="3" fill="#fff" stroke="#a8323f" stroke-width="0.95"/>
<rect x="356" y="423.1" width="3" height="3" fill="#fff" stroke="#a8323f" stroke-width="0.95"/>
<rect x="368" y="422.9" width="3" height="3" fill="#fff" stroke="#a8323f" stroke-width="0.95"/>
<rect x="360.5" y="426" width="3" height="3" fill="#fff" stroke="#a8323f" stroke-width="0.95"/>
<rect x="364" y="425.5" width="3" height="3" fill="#fff" stroke="#a8323f" stroke-width="0.95"/>
<line x1="333.3" y1="428.5" x2="348.1" y2="428.5" stroke="#333" stroke-width="1"/>
<line x1="355.1" y1="402.5" x2="372" y2="402.5" stroke="#333" stroke-width="1"/>
<text x="351.9" y="352.18" font-size="4.73" fill="#555" text-anchor="middle" textLength="21.1" lengthAdjust="spacingAndGlyphs">p&lt;0.0001</text>
<line x1="340.3" y1="354.4" x2="364" y2="354.4" stroke="#333" stroke-width="1.25"/>
<text x="340.3" y="438.19" font-size="5.67" fill="#333" text-anchor="middle" textLength="8.6" lengthAdjust="spacingAndGlyphs">PBS</text>
<text x="363.6" y="438.19" font-size="5.67" fill="#333" text-anchor="middle" textLength="12.8" lengthAdjust="spacingAndGlyphs">FLT3L</text>
<line x1="52.45" y1="443.4" x2="52.45" y2="526.2" stroke="#1a1a1a" stroke-width="1.25"/>
<line x1="49.25" y1="446.5" x2="52.45" y2="446.5" stroke="#1a1a1a" stroke-width="0.9"/>
<text x="46.55" y="448.31" font-size="5.15" fill="#555" text-anchor="end" textLength="5.23" lengthAdjust="spacingAndGlyphs">15</text>
<line x1="49.25" y1="472.5" x2="52.45" y2="472.5" stroke="#1a1a1a" stroke-width="0.9"/>
<text x="46.55" y="474.68" font-size="5.15" fill="#555" text-anchor="end" textLength="5.23" lengthAdjust="spacingAndGlyphs">10</text>
<line x1="49.25" y1="499.5" x2="52.45" y2="499.5" stroke="#1a1a1a" stroke-width="0.9"/>
<text x="46.55" y="501.05" font-size="5.15" fill="#555" text-anchor="end" textLength="2.61" lengthAdjust="spacingAndGlyphs">5</text>
<line x1="49.25" y1="525.5" x2="52.45" y2="525.5" stroke="#1a1a1a" stroke-width="0.9"/>
<text x="46.55" y="527.42" font-size="5.15" fill="#555" text-anchor="end" textLength="2.61" lengthAdjust="spacingAndGlyphs">0</text>
<line x1="51.95" y1="525.7" x2="99.4" y2="525.7" stroke="#1a1a1a" stroke-width="1.25"/>
<text transform="translate(32.55 484.7) rotate(-90)" x="0" y="2.83" font-size="8.51" fill="#1a1a1a" text-anchor="middle" textLength="66.2" lengthAdjust="spacingAndGlyphs">%BDCA-1 of huCD45</text>
<circle cx="57.8" cy="524" r="1.45" fill="#7a7f8c" stroke="#5a6070" stroke-width="0.7"/>
<circle cx="59.2" cy="523.5" r="1.45" fill="#7a7f8c" stroke="#5a6070" stroke-width="0.7"/>
<circle cx="61.5" cy="524.4" r="1.45" fill="#7a7f8c" stroke="#5a6070" stroke-width="0.7"/>
<circle cx="64" cy="525" r="1.45" fill="#7a7f8c" stroke="#5a6070" stroke-width="0.7"/>
<circle cx="66.5" cy="524.6" r="1.45" fill="#7a7f8c" stroke="#5a6070" stroke-width="0.7"/>
<circle cx="68.8" cy="523.8" r="1.45" fill="#7a7f8c" stroke="#5a6070" stroke-width="0.7"/>
<circle cx="70.8" cy="524.2" r="1.45" fill="#7a7f8c" stroke="#5a6070" stroke-width="0.7"/>
<circle cx="60" cy="525.8" r="1.45" fill="#7a7f8c" stroke="#5a6070" stroke-width="0.7"/>
<circle cx="62.5" cy="526.2" r="1.45" fill="#7a7f8c" stroke="#5a6070" stroke-width="0.7"/>
<circle cx="65" cy="526.5" r="1.45" fill="#7a7f8c" stroke="#5a6070" stroke-width="0.7"/>
<circle cx="67.5" cy="526.2" r="1.45" fill="#7a7f8c" stroke="#5a6070" stroke-width="0.7"/>
<circle cx="70" cy="525.6" r="1.45" fill="#7a7f8c" stroke="#5a6070" stroke-width="0.7"/>
<rect x="86.3" y="463.9" width="3" height="3" fill="#fff" stroke="#a8323f" stroke-width="0.95"/>
<rect x="84" y="488.1" width="3" height="3" fill="#fff" stroke="#a8323f" stroke-width="0.95"/>
<rect x="88.8" y="486.1" width="3" height="3" fill="#fff" stroke="#a8323f" stroke-width="0.95"/>
<rect x="86.3" y="497.3" width="3" height="3" fill="#fff" stroke="#a8323f" stroke-width="0.95"/>
<rect x="81.5" y="503" width="3" height="3" fill="#fff" stroke="#a8323f" stroke-width="0.95"/>
<rect x="91.3" y="503.9" width="3" height="3" fill="#fff" stroke="#a8323f" stroke-width="0.95"/>
<rect x="86.3" y="507.3" width="3" height="3" fill="#fff" stroke="#a8323f" stroke-width="0.95"/>
<rect x="80" y="513.9" width="3" height="3" fill="#fff" stroke="#a8323f" stroke-width="0.95"/>
<rect x="92.5" y="515" width="3" height="3" fill="#fff" stroke="#a8323f" stroke-width="0.95"/>
<rect x="82.5" y="516.1" width="3" height="3" fill="#fff" stroke="#a8323f" stroke-width="0.95"/>
<rect x="86.5" y="515.5" width="3" height="3" fill="#fff" stroke="#a8323f" stroke-width="0.95"/>
<rect x="90" y="516.5" width="3" height="3" fill="#fff" stroke="#a8323f" stroke-width="0.95"/>
<rect x="81.5" y="519.5" width="3" height="3" fill="#fff" stroke="#a8323f" stroke-width="0.95"/>
<rect x="85.5" y="520" width="3" height="3" fill="#fff" stroke="#a8323f" stroke-width="0.95"/>
<rect x="89.5" y="519.5" width="3" height="3" fill="#fff" stroke="#a8323f" stroke-width="0.95"/>
<rect x="92.5" y="519.2" width="3" height="3" fill="#fff" stroke="#a8323f" stroke-width="0.95"/>
<rect x="86.3" y="521.5" width="3" height="3" fill="#fff" stroke="#a8323f" stroke-width="0.95"/>
<line x1="56.7" y1="524.5" x2="73" y2="524.5" stroke="#333" stroke-width="1"/>
<line x1="80" y1="510.5" x2="96" y2="510.5" stroke="#333" stroke-width="1"/>
<text x="76.8" y="454.18" font-size="4.73" fill="#555" text-anchor="middle" textLength="21.1" lengthAdjust="spacingAndGlyphs">p&lt;0.0001</text>
<line x1="65" y1="456.3" x2="88.6" y2="456.3" stroke="#333" stroke-width="1.25"/>
<text x="64.1" y="534.89" font-size="5.67" fill="#333" text-anchor="middle" textLength="8.6" lengthAdjust="spacingAndGlyphs">PBS</text>
<text x="87.8" y="534.89" font-size="5.67" fill="#333" text-anchor="middle" textLength="12.8" lengthAdjust="spacingAndGlyphs">FLT3L</text>
<line x1="138.75" y1="443.4" x2="138.75" y2="526.2" stroke="#1a1a1a" stroke-width="1.25"/>
<line x1="135.55" y1="446.5" x2="138.75" y2="446.5" stroke="#1a1a1a" stroke-width="0.9"/>
<text x="132.85" y="448.31" font-size="5.15" fill="#555" text-anchor="end" textLength="5.23" lengthAdjust="spacingAndGlyphs">20</text>
<line x1="135.55" y1="466.5" x2="138.75" y2="466.5" stroke="#1a1a1a" stroke-width="0.9"/>
<text x="132.85" y="468.09" font-size="5.15" fill="#555" text-anchor="end" textLength="5.23" lengthAdjust="spacingAndGlyphs">15</text>
<line x1="135.55" y1="486.5" x2="138.75" y2="486.5" stroke="#1a1a1a" stroke-width="0.9"/>
<text x="132.85" y="487.87" font-size="5.15" fill="#555" text-anchor="end" textLength="5.23" lengthAdjust="spacingAndGlyphs">10</text>
<line x1="135.55" y1="505.5" x2="138.75" y2="505.5" stroke="#1a1a1a" stroke-width="0.9"/>
<text x="132.85" y="507.64" font-size="5.15" fill="#555" text-anchor="end" textLength="2.61" lengthAdjust="spacingAndGlyphs">5</text>
<line x1="135.55" y1="525.5" x2="138.75" y2="525.5" stroke="#1a1a1a" stroke-width="0.9"/>
<text x="132.85" y="527.42" font-size="5.15" fill="#555" text-anchor="end" textLength="2.61" lengthAdjust="spacingAndGlyphs">0</text>
<line x1="138.25" y1="525.7" x2="185.7" y2="525.7" stroke="#1a1a1a" stroke-width="1.25"/>
<text transform="translate(118.76 484.75) rotate(-90)" x="0" y="2.83" font-size="8.51" fill="#1a1a1a" text-anchor="middle" textLength="40.9" lengthAdjust="spacingAndGlyphs">Fold increase</text>
<rect x="143" y="524.2" width="15.6" height="1.5" fill="#636773" stroke="#4c505a" stroke-width="0.6"/>
<line x1="150.5" y1="522.6" x2="150.5" y2="524.6" stroke="#222" stroke-width="0.8"/>
<line x1="147.8" y1="522.5" x2="153.8" y2="522.5" stroke="#222" stroke-width="0.8"/>
<line x1="147.8" y1="524.5" x2="153.8" y2="524.5" stroke="#222" stroke-width="0.8"/>
<rect x="166.2" y="470.7" width="15.8" height="55" fill="#9c3341" stroke="#86202f" stroke-width="0.6"/>
<line x1="174.5" y1="460.5" x2="174.5" y2="479.1" stroke="#222" stroke-width="0.9"/>
<line x1="169.8" y1="460.5" x2="178.6" y2="460.5" stroke="#222" stroke-width="0.9"/>
<line x1="169.8" y1="479.5" x2="178.6" y2="479.5" stroke="#222" stroke-width="0.9"/>
<text x="163.4" y="451.07" font-size="4.73" fill="#555" text-anchor="middle" textLength="21.1" lengthAdjust="spacingAndGlyphs">p&lt;0.0001</text>
<line x1="151.8" y1="453.8" x2="175.5" y2="453.8" stroke="#333" stroke-width="1.25"/>
<text x="150.8" y="534.89" font-size="5.67" fill="#333" text-anchor="middle" textLength="8.6" lengthAdjust="spacingAndGlyphs">PBS</text>
<text x="174.2" y="534.89" font-size="5.67" fill="#333" text-anchor="middle" textLength="12.8" lengthAdjust="spacingAndGlyphs">FLT3L</text>
<line x1="237.6" y1="443.4" x2="237.6" y2="526.2" stroke="#1a1a1a" stroke-width="1.25"/>
<line x1="234.4" y1="446.5" x2="237.6" y2="446.5" stroke="#1a1a1a" stroke-width="0.9"/>
<text x="231.7" y="448.31" font-size="5.15" fill="#555" text-anchor="end" textLength="15.68" lengthAdjust="spacingAndGlyphs">100000</text>
<line x1="234.4" y1="462.5" x2="237.6" y2="462.5" stroke="#1a1a1a" stroke-width="0.9"/>
<text x="231.7" y="464.13" font-size="5.15" fill="#555" text-anchor="end" textLength="13.07" lengthAdjust="spacingAndGlyphs">80000</text>
<line x1="234.4" y1="478.5" x2="237.6" y2="478.5" stroke="#1a1a1a" stroke-width="0.9"/>
<text x="231.7" y="479.95" font-size="5.15" fill="#555" text-anchor="end" textLength="13.07" lengthAdjust="spacingAndGlyphs">60000</text>
<line x1="234.4" y1="494.5" x2="237.6" y2="494.5" stroke="#1a1a1a" stroke-width="0.9"/>
<text x="231.7" y="495.78" font-size="5.15" fill="#555" text-anchor="end" textLength="13.07" lengthAdjust="spacingAndGlyphs">40000</text>
<line x1="234.4" y1="509.5" x2="237.6" y2="509.5" stroke="#1a1a1a" stroke-width="0.9"/>
<text x="231.7" y="511.6" font-size="5.15" fill="#555" text-anchor="end" textLength="13.07" lengthAdjust="spacingAndGlyphs">20000</text>
<line x1="234.4" y1="525.5" x2="237.6" y2="525.5" stroke="#1a1a1a" stroke-width="0.9"/>
<text x="231.7" y="527.42" font-size="5.15" fill="#555" text-anchor="end" textLength="2.61" lengthAdjust="spacingAndGlyphs">0</text>
<line x1="237.1" y1="525.7" x2="284.7" y2="525.7" stroke="#1a1a1a" stroke-width="1.25"/>
<text transform="translate(205.56 484.4) rotate(-90)" x="0" y="2.83" font-size="8.51" fill="#1a1a1a" text-anchor="middle" textLength="83.8" lengthAdjust="spacingAndGlyphs">Total BDCA-1 per ml blood</text>
<circle cx="247" cy="514.9" r="1.45" fill="#fff" stroke="#5a6070" stroke-width="0.7"/>
<circle cx="251.8" cy="516.5" r="1.45" fill="#fff" stroke="#5a6070" stroke-width="0.7"/>
<circle cx="242.5" cy="521.8" r="1.45" fill="#fff" stroke="#5a6070" stroke-width="0.7"/>
<circle cx="245.5" cy="521.8" r="1.45" fill="#fff" stroke="#5a6070" stroke-width="0.7"/>
<circle cx="248.5" cy="521.8" r="1.45" fill="#fff" stroke="#5a6070" stroke-width="0.7"/>
<circle cx="251.5" cy="521.8" r="1.45" fill="#fff" stroke="#5a6070" stroke-width="0.7"/>
<circle cx="254.5" cy="521.8" r="1.45" fill="#fff" stroke="#5a6070" stroke-width="0.7"/>
<circle cx="257" cy="521.8" r="1.45" fill="#fff" stroke="#5a6070" stroke-width="0.7"/>
<circle cx="245" cy="523.3" r="1.45" fill="#fff" stroke="#5a6070" stroke-width="0.7"/>
<circle cx="248" cy="523.3" r="1.45" fill="#fff" stroke="#5a6070" stroke-width="0.7"/>
<circle cx="251" cy="523.3" r="1.45" fill="#fff" stroke="#5a6070" stroke-width="0.7"/>
<circle cx="254" cy="523.3" r="1.45" fill="#fff" stroke="#5a6070" stroke-width="0.7"/>
<circle cx="247.5" cy="524.6" r="1.45" fill="#fff" stroke="#5a6070" stroke-width="0.7"/>
<circle cx="250.5" cy="524.6" r="1.45" fill="#fff" stroke="#5a6070" stroke-width="0.7"/>
<rect x="269.2" y="453" width="3" height="3" fill="#fff" stroke="#a8323f" stroke-width="0.95"/>
<rect x="274.3" y="456" width="3" height="3" fill="#fff" stroke="#a8323f" stroke-width="0.95"/>
<rect x="271.5" y="467.9" width="3" height="3" fill="#fff" stroke="#a8323f" stroke-width="0.95"/>
<rect x="269" y="475.9" width="3" height="3" fill="#fff" stroke="#a8323f" stroke-width="0.95"/>
<rect x="274" y="477.5" width="3" height="3" fill="#fff" stroke="#a8323f" stroke-width="0.95"/>
<rect x="269" y="490" width="3" height="3" fill="#fff" stroke="#a8323f" stroke-width="0.95"/>
<rect x="274" y="489.2" width="3" height="3" fill="#fff" stroke="#a8323f" stroke-width="0.95"/>
<rect x="271.5" y="497.3" width="3" height="3" fill="#fff" stroke="#a8323f" stroke-width="0.95"/>
<rect x="271.2" y="503.8" width="3" height="3" fill="#fff" stroke="#a8323f" stroke-width="0.95"/>
<rect x="268.7" y="507.8" width="3" height="3" fill="#fff" stroke="#a8323f" stroke-width="0.95"/>
<rect x="274" y="511.5" width="3" height="3" fill="#fff" stroke="#a8323f" stroke-width="0.95"/>
<rect x="271.5" y="523.5" width="3" height="3" fill="#fff" stroke="#a8323f" stroke-width="0.95"/>
<line x1="241" y1="521.5" x2="257.8" y2="521.5" stroke="#333" stroke-width="1"/>
<line x1="264.6" y1="489.5" x2="281" y2="489.5" stroke="#333" stroke-width="1"/>
<text x="262" y="448.38" font-size="4.73" fill="#555" text-anchor="middle" textLength="21" lengthAdjust="spacingAndGlyphs">p=0.0004</text>
<line x1="250.2" y1="450.2" x2="274" y2="450.2" stroke="#333" stroke-width="1.25"/>
<text x="249.6" y="534.89" font-size="5.67" fill="#333" text-anchor="middle" textLength="8.6" lengthAdjust="spacingAndGlyphs">PBS</text>
<text x="273" y="534.89" font-size="5.67" fill="#333" text-anchor="middle" textLength="12.8" lengthAdjust="spacingAndGlyphs">FLT3L</text>
<line x1="328.5" y1="443.4" x2="328.5" y2="526.2" stroke="#1a1a1a" stroke-width="1.25"/>
<line x1="325.3" y1="446.5" x2="328.5" y2="446.5" stroke="#1a1a1a" stroke-width="0.9"/>
<text x="322.6" y="448.31" font-size="5.15" fill="#555" text-anchor="end" textLength="6.53" lengthAdjust="spacingAndGlyphs">2.5</text>
<line x1="325.3" y1="462.5" x2="328.5" y2="462.5" stroke="#1a1a1a" stroke-width="0.9"/>
<text x="322.6" y="464.13" font-size="5.15" fill="#555" text-anchor="end" textLength="6.53" lengthAdjust="spacingAndGlyphs">2.0</text>
<line x1="325.3" y1="478.5" x2="328.5" y2="478.5" stroke="#1a1a1a" stroke-width="0.9"/>
<text x="322.6" y="479.95" font-size="5.15" fill="#555" text-anchor="end" textLength="6.53" lengthAdjust="spacingAndGlyphs">1.5</text>
<line x1="325.3" y1="494.5" x2="328.5" y2="494.5" stroke="#1a1a1a" stroke-width="0.9"/>
<text x="322.6" y="495.78" font-size="5.15" fill="#555" text-anchor="end" textLength="6.53" lengthAdjust="spacingAndGlyphs">1.0</text>
<line x1="325.3" y1="509.5" x2="328.5" y2="509.5" stroke="#1a1a1a" stroke-width="0.9"/>
<text x="322.6" y="511.6" font-size="5.15" fill="#555" text-anchor="end" textLength="6.53" lengthAdjust="spacingAndGlyphs">0.5</text>
<line x1="325.3" y1="525.5" x2="328.5" y2="525.5" stroke="#1a1a1a" stroke-width="0.9"/>
<text x="322.6" y="527.42" font-size="5.15" fill="#555" text-anchor="end" textLength="6.53" lengthAdjust="spacingAndGlyphs">0.0</text>
<line x1="328" y1="525.7" x2="375.2" y2="525.7" stroke="#1a1a1a" stroke-width="1.25"/>
<text transform="translate(307.15 484.25) rotate(-90)" x="0" y="2.83" font-size="8.51" fill="#1a1a1a" text-anchor="middle" textLength="94.5" lengthAdjust="spacingAndGlyphs">Total BDCA-1 per spleen (x10<tspan dy="-2.2" font-size="4.6">6</tspan><tspan dy="2.2">)</tspan></text>
<circle cx="334.3" cy="523.1" r="1.45" fill="#fff" stroke="#5a6070" stroke-width="0.7"/>
<circle cx="346.5" cy="523.5" r="1.45" fill="#fff" stroke="#5a6070" stroke-width="0.7"/>
<circle cx="336.5" cy="524.8" r="1.45" fill="#fff" stroke="#5a6070" stroke-width="0.7"/>
<circle cx="339.5" cy="524.8" r="1.45" fill="#fff" stroke="#5a6070" stroke-width="0.7"/>
<circle cx="342.5" cy="524.8" r="1.45" fill="#fff" stroke="#5a6070" stroke-width="0.7"/>
<circle cx="345.5" cy="524.8" r="1.45" fill="#fff" stroke="#5a6070" stroke-width="0.7"/>
<circle cx="338" cy="526" r="1.45" fill="#fff" stroke="#5a6070" stroke-width="0.7"/>
<circle cx="341" cy="526" r="1.45" fill="#fff" stroke="#5a6070" stroke-width="0.7"/>
<circle cx="344" cy="526" r="1.45" fill="#fff" stroke="#5a6070" stroke-width="0.7"/>
<rect x="359.5" y="458" width="3" height="3" fill="#fff" stroke="#a8323f" stroke-width="0.95"/>
<rect x="364.2" y="454.8" width="3" height="3" fill="#fff" stroke="#a8323f" stroke-width="0.95"/>
<rect x="362.1" y="476.5" width="3" height="3" fill="#fff" stroke="#a8323f" stroke-width="0.95"/>
<rect x="359.5" y="490.6" width="3" height="3" fill="#fff" stroke="#a8323f" stroke-width="0.95"/>
<rect x="364.2" y="490.6" width="3" height="3" fill="#fff" stroke="#a8323f" stroke-width="0.95"/>
<rect x="362.1" y="497.9" width="3" height="3" fill="#fff" stroke="#a8323f" stroke-width="0.95"/>
<rect x="364.2" y="502.1" width="3" height="3" fill="#fff" stroke="#a8323f" stroke-width="0.95"/>
<rect x="359.5" y="505.5" width="3" height="3" fill="#fff" stroke="#a8323f" stroke-width="0.95"/>
<rect x="362.1" y="513.8" width="3" height="3" fill="#fff" stroke="#a8323f" stroke-width="0.95"/>
<rect x="356.5" y="517.5" width="3" height="3" fill="#fff" stroke="#a8323f" stroke-width="0.95"/>
<rect x="368" y="517" width="3" height="3" fill="#fff" stroke="#a8323f" stroke-width="0.95"/>
<rect x="359.8" y="520.5" width="3" height="3" fill="#fff" stroke="#a8323f" stroke-width="0.95"/>
<rect x="364" y="520.2" width="3" height="3" fill="#fff" stroke="#a8323f" stroke-width="0.95"/>
<line x1="333.3" y1="524.5" x2="348.1" y2="524.5" stroke="#333" stroke-width="1"/>
<line x1="355.1" y1="498.5" x2="372" y2="498.5" stroke="#333" stroke-width="1"/>
<text x="352.4" y="449.38" font-size="4.73" fill="#555" text-anchor="middle" textLength="21" lengthAdjust="spacingAndGlyphs">p=0.0025</text>
<line x1="341" y1="451" x2="364" y2="451" stroke="#333" stroke-width="1.25"/>
<text x="340.3" y="534.89" font-size="5.67" fill="#333" text-anchor="middle" textLength="8.6" lengthAdjust="spacingAndGlyphs">PBS</text>
<text x="363.6" y="534.89" font-size="5.67" fill="#333" text-anchor="middle" textLength="12.8" lengthAdjust="spacingAndGlyphs">FLT3L</text>
<line x1="52.45" y1="540" x2="52.45" y2="622.4" stroke="#1a1a1a" stroke-width="1.25"/>
<line x1="49.25" y1="543.5" x2="52.45" y2="543.5" stroke="#1a1a1a" stroke-width="0.9"/>
<text x="46.55" y="544.92" font-size="5.15" fill="#555" text-anchor="end" textLength="6.53" lengthAdjust="spacingAndGlyphs">1.0</text>
<line x1="49.25" y1="558.5" x2="52.45" y2="558.5" stroke="#1a1a1a" stroke-width="0.9"/>
<text x="46.55" y="560.66" font-size="5.15" fill="#555" text-anchor="end" textLength="6.53" lengthAdjust="spacingAndGlyphs">0.8</text>
<line x1="49.25" y1="574.5" x2="52.45" y2="574.5" stroke="#1a1a1a" stroke-width="0.9"/>
<text x="46.55" y="576.4" font-size="5.15" fill="#555" text-anchor="end" textLength="6.53" lengthAdjust="spacingAndGlyphs">0.6</text>
<line x1="49.25" y1="590.5" x2="52.45" y2="590.5" stroke="#1a1a1a" stroke-width="0.9"/>
<text x="46.55" y="592.13" font-size="5.15" fill="#555" text-anchor="end" textLength="6.53" lengthAdjust="spacingAndGlyphs">0.4</text>
<line x1="49.25" y1="606.5" x2="52.45" y2="606.5" stroke="#1a1a1a" stroke-width="0.9"/>
<text x="46.55" y="607.88" font-size="5.15" fill="#555" text-anchor="end" textLength="6.53" lengthAdjust="spacingAndGlyphs">0.2</text>
<line x1="49.25" y1="621.5" x2="52.45" y2="621.5" stroke="#1a1a1a" stroke-width="0.9"/>
<text x="46.55" y="623.62" font-size="5.15" fill="#555" text-anchor="end" textLength="6.53" lengthAdjust="spacingAndGlyphs">0.0</text>
<line x1="51.95" y1="621.9" x2="99.4" y2="621.9" stroke="#1a1a1a" stroke-width="1.25"/>
<text transform="translate(31.45 580.9) rotate(-90)" x="0" y="2.83" font-size="8.51" fill="#1a1a1a" text-anchor="middle" textLength="65.6" lengthAdjust="spacingAndGlyphs">%BDCA-3 of huCD45</text>
<circle cx="58" cy="617.5" r="1.45" fill="#fff" stroke="#5a6070" stroke-width="0.7"/>
<circle cx="61.75" cy="615.8" r="1.45" fill="#fff" stroke="#5a6070" stroke-width="0.7"/>
<circle cx="66.75" cy="615.8" r="1.45" fill="#fff" stroke="#5a6070" stroke-width="0.7"/>
<circle cx="70" cy="617.5" r="1.45" fill="#fff" stroke="#5a6070" stroke-width="0.7"/>
<circle cx="59.5" cy="620.5" r="1.45" fill="#fff" stroke="#5a6070" stroke-width="0.7"/>
<circle cx="62.5" cy="621" r="1.45" fill="#fff" stroke="#5a6070" stroke-width="0.7"/>
<circle cx="65" cy="621.5" r="1.45" fill="#fff" stroke="#5a6070" stroke-width="0.7"/>
<circle cx="67.5" cy="621" r="1.45" fill="#fff" stroke="#5a6070" stroke-width="0.7"/>
<circle cx="70" cy="620.5" r="1.45" fill="#fff" stroke="#5a6070" stroke-width="0.7"/>
<rect x="83.5" y="551.5" width="3" height="3" fill="#fff" stroke="#a8323f" stroke-width="0.95"/>
<rect x="88.5" y="553.1" width="3" height="3" fill="#fff" stroke="#a8323f" stroke-width="0.95"/>
<rect x="86.1" y="560.2" width="3" height="3" fill="#fff" stroke="#a8323f" stroke-width="0.95"/>
<rect x="86.3" y="570.5" width="3" height="3" fill="#fff" stroke="#a8323f" stroke-width="0.95"/>
<rect x="84" y="577.7" width="3" height="3" fill="#fff" stroke="#a8323f" stroke-width="0.95"/>
<rect x="88.5" y="576.3" width="3" height="3" fill="#fff" stroke="#a8323f" stroke-width="0.95"/>
<rect x="80.5" y="582.8" width="3" height="3" fill="#fff" stroke="#a8323f" stroke-width="0.95"/>
<rect x="84.5" y="583.8" width="3" height="3" fill="#fff" stroke="#a8323f" stroke-width="0.95"/>
<rect x="87.8" y="585.5" width="3" height="3" fill="#fff" stroke="#a8323f" stroke-width="0.95"/>
<rect x="92.5" y="582.8" width="3" height="3" fill="#fff" stroke="#a8323f" stroke-width="0.95"/>
<rect x="81.5" y="590.3" width="3" height="3" fill="#fff" stroke="#a8323f" stroke-width="0.95"/>
<rect x="86.3" y="594.5" width="3" height="3" fill="#fff" stroke="#a8323f" stroke-width="0.95"/>
<rect x="91.5" y="592.5" width="3" height="3" fill="#fff" stroke="#a8323f" stroke-width="0.95"/>
<rect x="80.3" y="600" width="3" height="3" fill="#fff" stroke="#a8323f" stroke-width="0.95"/>
<rect x="84.5" y="602" width="3" height="3" fill="#fff" stroke="#a8323f" stroke-width="0.95"/>
<rect x="88.1" y="603" width="3" height="3" fill="#fff" stroke="#a8323f" stroke-width="0.95"/>
<rect x="92.3" y="601.5" width="3" height="3" fill="#fff" stroke="#a8323f" stroke-width="0.95"/>
<rect x="81.5" y="608.9" width="3" height="3" fill="#fff" stroke="#a8323f" stroke-width="0.95"/>
<rect x="85.5" y="612.1" width="3" height="3" fill="#fff" stroke="#a8323f" stroke-width="0.95"/>
<rect x="90.5" y="612.1" width="3" height="3" fill="#fff" stroke="#a8323f" stroke-width="0.95"/>
<line x1="56.7" y1="619.5" x2="73" y2="619.5" stroke="#333" stroke-width="1"/>
<line x1="80.5" y1="588.5" x2="96" y2="588.5" stroke="#333" stroke-width="1"/>
<text x="76.4" y="546.58" font-size="4.73" fill="#555" text-anchor="middle" textLength="21.1" lengthAdjust="spacingAndGlyphs">p&lt;0.0001</text>
<line x1="64.5" y1="548.7" x2="87.8" y2="548.7" stroke="#333" stroke-width="1.25"/>
<text x="64.1" y="630.19" font-size="5.67" fill="#333" text-anchor="middle" textLength="8.6" lengthAdjust="spacingAndGlyphs">PBS</text>
<text x="87.8" y="630.19" font-size="5.67" fill="#333" text-anchor="middle" textLength="12.8" lengthAdjust="spacingAndGlyphs">FLT3L</text>
<line x1="138.75" y1="540" x2="138.75" y2="622.4" stroke="#1a1a1a" stroke-width="1.25"/>
<line x1="135.55" y1="543.5" x2="138.75" y2="543.5" stroke="#1a1a1a" stroke-width="0.9"/>
<text x="132.85" y="544.92" font-size="5.15" fill="#555" text-anchor="end" textLength="5.23" lengthAdjust="spacingAndGlyphs">15</text>
<line x1="135.55" y1="569.5" x2="138.75" y2="569.5" stroke="#1a1a1a" stroke-width="0.9"/>
<text x="132.85" y="571.15" font-size="5.15" fill="#555" text-anchor="end" textLength="5.23" lengthAdjust="spacingAndGlyphs">10</text>
<line x1="135.55" y1="595.5" x2="138.75" y2="595.5" stroke="#1a1a1a" stroke-width="0.9"/>
<text x="132.85" y="597.38" font-size="5.15" fill="#555" text-anchor="end" textLength="2.61" lengthAdjust="spacingAndGlyphs">5</text>
<line x1="135.55" y1="621.5" x2="138.75" y2="621.5" stroke="#1a1a1a" stroke-width="0.9"/>
<text x="132.85" y="623.62" font-size="5.15" fill="#555" text-anchor="end" textLength="2.61" lengthAdjust="spacingAndGlyphs">0</text>
<line x1="138.25" y1="621.9" x2="185.7" y2="621.9" stroke="#1a1a1a" stroke-width="1.25"/>
<text transform="translate(118.76 580.35) rotate(-90)" x="0" y="2.83" font-size="8.51" fill="#1a1a1a" text-anchor="middle" textLength="41.3" lengthAdjust="spacingAndGlyphs">Fold increase</text>
<rect x="143" y="618.5" width="15.6" height="3.4" fill="#636773" stroke="#4c505a" stroke-width="0.6"/>
<line x1="150.5" y1="616.4" x2="150.5" y2="619.5" stroke="#222" stroke-width="0.8"/>
<line x1="147.8" y1="616.5" x2="153.8" y2="616.5" stroke="#222" stroke-width="0.8"/>
<line x1="147.8" y1="619.5" x2="153.8" y2="619.5" stroke="#222" stroke-width="0.8"/>
<rect x="166.2" y="576" width="15.8" height="45.9" fill="#9c3341" stroke="#86202f" stroke-width="0.6"/>
<line x1="174.5" y1="569.9" x2="174.5" y2="580.9" stroke="#222" stroke-width="0.9"/>
<line x1="169.8" y1="569.5" x2="178.6" y2="569.5" stroke="#222" stroke-width="0.9"/>
<line x1="169.8" y1="580.5" x2="178.6" y2="580.5" stroke="#222" stroke-width="0.9"/>
<text x="163.4" y="547.58" font-size="4.73" fill="#555" text-anchor="middle" textLength="21.1" lengthAdjust="spacingAndGlyphs">p&lt;0.0001</text>
<line x1="151.8" y1="549.6" x2="175.5" y2="549.6" stroke="#333" stroke-width="1.25"/>
<text x="150.8" y="630.19" font-size="5.67" fill="#333" text-anchor="middle" textLength="8.6" lengthAdjust="spacingAndGlyphs">PBS</text>
<text x="174.2" y="630.19" font-size="5.67" fill="#333" text-anchor="middle" textLength="12.8" lengthAdjust="spacingAndGlyphs">FLT3L</text>
<line x1="237.6" y1="540" x2="237.6" y2="622.4" stroke="#1a1a1a" stroke-width="1.25"/>
<line x1="234.4" y1="543.5" x2="237.6" y2="543.5" stroke="#1a1a1a" stroke-width="0.9"/>
<text x="231.7" y="544.92" font-size="5.15" fill="#555" text-anchor="end" textLength="15.68" lengthAdjust="spacingAndGlyphs">300000</text>
<line x1="234.4" y1="569.5" x2="237.6" y2="569.5" stroke="#1a1a1a" stroke-width="0.9"/>
<text x="231.7" y="571.15" font-size="5.15" fill="#555" text-anchor="end" textLength="15.68" lengthAdjust="spacingAndGlyphs">200000</text>
<line x1="234.4" y1="595.5" x2="237.6" y2="595.5" stroke="#1a1a1a" stroke-width="0.9"/>
<text x="231.7" y="597.38" font-size="5.15" fill="#555" text-anchor="end" textLength="15.68" lengthAdjust="spacingAndGlyphs">100000</text>
<line x1="234.4" y1="621.5" x2="237.6" y2="621.5" stroke="#1a1a1a" stroke-width="0.9"/>
<text x="231.7" y="623.62" font-size="5.15" fill="#555" text-anchor="end" textLength="2.61" lengthAdjust="spacingAndGlyphs">0</text>
<line x1="237.1" y1="621.9" x2="284.7" y2="621.9" stroke="#1a1a1a" stroke-width="1.25"/>
<text transform="translate(205.56 580.85) rotate(-90)" x="0" y="2.83" font-size="8.51" fill="#1a1a1a" text-anchor="middle" textLength="82.5" lengthAdjust="spacingAndGlyphs">Total BDCA-3 per ml blood</text>
<circle cx="249.3" cy="615.7" r="1.45" fill="#fff" stroke="#5a6070" stroke-width="0.7"/>
<circle cx="247.5" cy="617.4" r="1.45" fill="#fff" stroke="#5a6070" stroke-width="0.7"/>
<circle cx="251.1" cy="617.4" r="1.45" fill="#fff" stroke="#5a6070" stroke-width="0.7"/>
<circle cx="245.5" cy="619" r="1.45" fill="#fff" stroke="#5a6070" stroke-width="0.7"/>
<circle cx="249.3" cy="619" r="1.45" fill="#fff" stroke="#5a6070" stroke-width="0.7"/>
<circle cx="253.1" cy="619" r="1.45" fill="#fff" stroke="#5a6070" stroke-width="0.7"/>
<circle cx="243.5" cy="621" r="1.45" fill="#fff" stroke="#5a6070" stroke-width="0.7"/>
<circle cx="246.5" cy="621" r="1.45" fill="#fff" stroke="#5a6070" stroke-width="0.7"/>
<circle cx="249.5" cy="621" r="1.45" fill="#fff" stroke="#5a6070" stroke-width="0.7"/>
<circle cx="252.5" cy="621" r="1.45" fill="#fff" stroke="#5a6070" stroke-width="0.7"/>
<circle cx="255.5" cy="621" r="1.45" fill="#fff" stroke="#5a6070" stroke-width="0.7"/>
<circle cx="247" cy="622.4" r="1.45" fill="#fff" stroke="#5a6070" stroke-width="0.7"/>
<circle cx="251.5" cy="622.4" r="1.45" fill="#fff" stroke="#5a6070" stroke-width="0.7"/>
<rect x="271.6" y="551.5" width="3" height="3" fill="#fff" stroke="#a8323f" stroke-width="0.95"/>
<rect x="271.6" y="591.8" width="3" height="3" fill="#fff" stroke="#a8323f" stroke-width="0.95"/>
<rect x="269" y="596.2" width="3" height="3" fill="#fff" stroke="#a8323f" stroke-width="0.95"/>
<rect x="274" y="597.8" width="3" height="3" fill="#fff" stroke="#a8323f" stroke-width="0.95"/>
<rect x="269" y="607.5" width="3" height="3" fill="#fff" stroke="#a8323f" stroke-width="0.95"/>
<rect x="274" y="606.5" width="3" height="3" fill="#fff" stroke="#a8323f" stroke-width="0.95"/>
<rect x="264.5" y="613.5" width="3" height="3" fill="#fff" stroke="#a8323f" stroke-width="0.95"/>
<rect x="267" y="615.9" width="3" height="3" fill="#fff" stroke="#a8323f" stroke-width="0.95"/>
<rect x="271.5" y="614" width="3" height="3" fill="#fff" stroke="#a8323f" stroke-width="0.95"/>
<rect x="276.5" y="611.9" width="3" height="3" fill="#fff" stroke="#a8323f" stroke-width="0.95"/>
<rect x="276" y="618.2" width="3" height="3" fill="#fff" stroke="#a8323f" stroke-width="0.95"/>
<rect x="271.5" y="619.8" width="3" height="3" fill="#fff" stroke="#a8323f" stroke-width="0.95"/>
<line x1="241.8" y1="620.5" x2="257.8" y2="620.5" stroke="#333" stroke-width="1"/>
<line x1="264.6" y1="605.5" x2="281" y2="605.5" stroke="#333" stroke-width="1"/>
<text x="262" y="547.18" font-size="4.73" fill="#555" text-anchor="middle" textLength="21" lengthAdjust="spacingAndGlyphs">p=0.0007</text>
<line x1="250.2" y1="549.2" x2="274" y2="549.2" stroke="#333" stroke-width="1.25"/>
<text x="249.6" y="630.19" font-size="5.67" fill="#333" text-anchor="middle" textLength="8.6" lengthAdjust="spacingAndGlyphs">PBS</text>
<text x="273" y="630.19" font-size="5.67" fill="#333" text-anchor="middle" textLength="12.8" lengthAdjust="spacingAndGlyphs">FLT3L</text>
<line x1="328.5" y1="540" x2="328.5" y2="622.4" stroke="#1a1a1a" stroke-width="1.25"/>
<line x1="325.3" y1="543.5" x2="328.5" y2="543.5" stroke="#1a1a1a" stroke-width="0.9"/>
<text x="322.6" y="544.92" font-size="5.15" fill="#555" text-anchor="end" textLength="6.53" lengthAdjust="spacingAndGlyphs">1.5</text>
<line x1="325.3" y1="569.5" x2="328.5" y2="569.5" stroke="#1a1a1a" stroke-width="0.9"/>
<text x="322.6" y="571.15" font-size="5.15" fill="#555" text-anchor="end" textLength="6.53" lengthAdjust="spacingAndGlyphs">1.0</text>
<line x1="325.3" y1="595.5" x2="328.5" y2="595.5" stroke="#1a1a1a" stroke-width="0.9"/>
<text x="322.6" y="597.38" font-size="5.15" fill="#555" text-anchor="end" textLength="6.53" lengthAdjust="spacingAndGlyphs">0.5</text>
<line x1="325.3" y1="621.5" x2="328.5" y2="621.5" stroke="#1a1a1a" stroke-width="0.9"/>
<text x="322.6" y="623.62" font-size="5.15" fill="#555" text-anchor="end" textLength="6.53" lengthAdjust="spacingAndGlyphs">0.0</text>
<line x1="328" y1="621.9" x2="375.2" y2="621.9" stroke="#1a1a1a" stroke-width="1.25"/>
<text transform="translate(307.15 579.75) rotate(-90)" x="0" y="2.83" font-size="8.51" fill="#1a1a1a" text-anchor="middle" textLength="97.5" lengthAdjust="spacingAndGlyphs">Total BDCA-3 per spleen (x10<tspan dy="-2.2" font-size="4.6">6</tspan><tspan dy="2.2">)</tspan></text>
<circle cx="334.6" cy="618.5" r="1.45" fill="#fff" stroke="#5a6070" stroke-width="0.7"/>
<circle cx="345.5" cy="619.3" r="1.45" fill="#fff" stroke="#5a6070" stroke-width="0.7"/>
<circle cx="336.5" cy="620.8" r="1.45" fill="#fff" stroke="#5a6070" stroke-width="0.7"/>
<circle cx="339.5" cy="620.8" r="1.45" fill="#fff" stroke="#5a6070" stroke-width="0.7"/>
<circle cx="342.5" cy="620.8" r="1.45" fill="#fff" stroke="#5a6070" stroke-width="0.7"/>
<circle cx="345.5" cy="620.8" r="1.45" fill="#fff" stroke="#5a6070" stroke-width="0.7"/>
<circle cx="338" cy="622" r="1.45" fill="#fff" stroke="#5a6070" stroke-width="0.7"/>
<circle cx="341" cy="622" r="1.45" fill="#fff" stroke="#5a6070" stroke-width="0.7"/>
<circle cx="344" cy="622" r="1.45" fill="#fff" stroke="#5a6070" stroke-width="0.7"/>
<rect x="359.5" y="560.3" width="3" height="3" fill="#fff" stroke="#a8323f" stroke-width="0.95"/>
<rect x="364.2" y="562.5" width="3" height="3" fill="#fff" stroke="#a8323f" stroke-width="0.95"/>
<rect x="362.1" y="570.9" width="3" height="3" fill="#fff" stroke="#a8323f" stroke-width="0.95"/>
<rect x="362.1" y="579.4" width="3" height="3" fill="#fff" stroke="#a8323f" stroke-width="0.95"/>
<rect x="362.1" y="586.4" width="3" height="3" fill="#fff" stroke="#a8323f" stroke-width="0.95"/>
<rect x="362.1" y="606" width="3" height="3" fill="#fff" stroke="#a8323f" stroke-width="0.95"/>
<rect x="356.8" y="615.8" width="3" height="3" fill="#fff" stroke="#a8323f" stroke-width="0.95"/>
<rect x="359.9" y="617.9" width="3" height="3" fill="#fff" stroke="#a8323f" stroke-width="0.95"/>
<rect x="363.1" y="619.6" width="3" height="3" fill="#fff" stroke="#a8323f" stroke-width="0.95"/>
<rect x="365.9" y="617.9" width="3" height="3" fill="#fff" stroke="#a8323f" stroke-width="0.95"/>
<rect x="367.8" y="615.8" width="3" height="3" fill="#fff" stroke="#a8323f" stroke-width="0.95"/>
<line x1="333.3" y1="620.5" x2="348.1" y2="620.5" stroke="#333" stroke-width="1"/>
<line x1="355.7" y1="601.5" x2="372" y2="601.5" stroke="#333" stroke-width="1"/>
<text x="352.1" y="553.88" font-size="4.73" fill="#555" text-anchor="middle" textLength="21" lengthAdjust="spacingAndGlyphs">p=0.0008</text>
<line x1="340.3" y1="555.9" x2="364" y2="555.9" stroke="#333" stroke-width="1.25"/>
<text x="340.3" y="630.19" font-size="5.67" fill="#333" text-anchor="middle" textLength="8.6" lengthAdjust="spacingAndGlyphs">PBS</text>
<text x="363.6" y="630.19" font-size="5.67" fill="#333" text-anchor="middle" textLength="12.8" lengthAdjust="spacingAndGlyphs">FLT3L</text>
<rect x="0" y="0" width="520" height="1.4" fill="#4a4a4a"/>
<rect x="0" y="0" width="1.5" height="638" fill="#4a4a4a"/>
<rect x="519" y="0" width="1" height="638" fill="#0a0a0a"/>
<rect x="0" y="637" width="520" height="1" fill="#0a0a0a"/>
</svg>
</body></html>
